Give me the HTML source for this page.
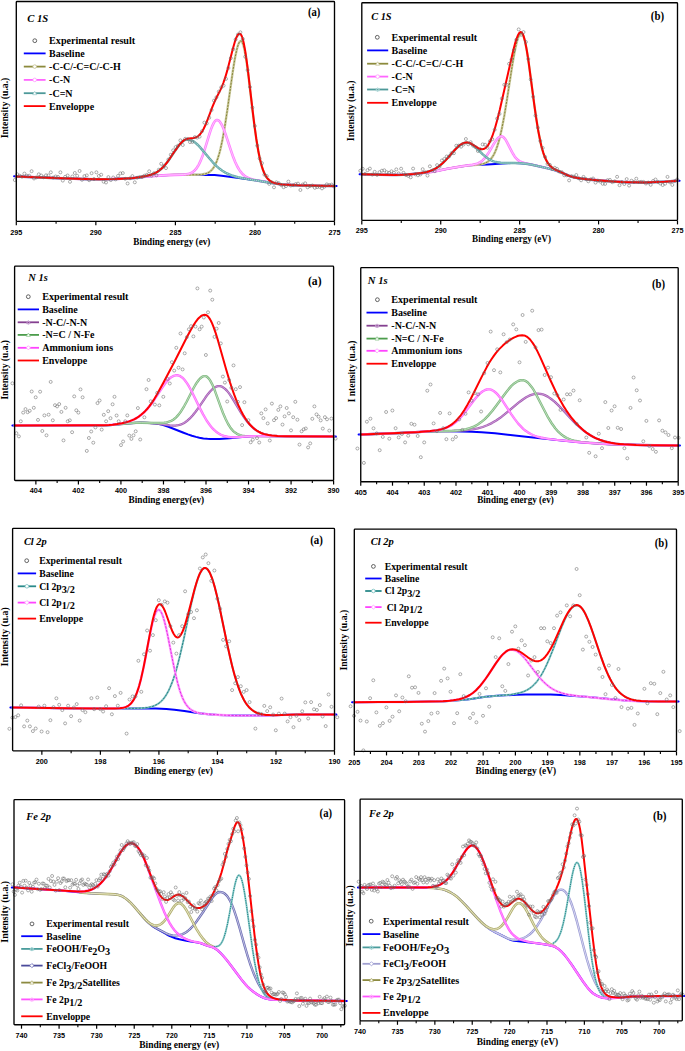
<!DOCTYPE html>
<html><head><meta charset="utf-8"><style>
html,body{margin:0;padding:0;background:#fff;}
svg{display:block;}
</style></head><body>
<svg width="685" height="1051" viewBox="0 0 685 1051">
<defs><path id="c1" d="M16.5,176.4l30.3,1.3 34.5,1.3 14,.3 12-.1 11-.3 12.5-.7 5-.4 13-1.5 10.5-.8 7.5-.4 7.5-.3 20,0 6-.2 2.5-.3 2.5-.5 2-.7 1.5-.7 1-.7 1-.8 1.5-1.5 1.5-2.1 1.5-2.7 1.5-3.4 1-2.8 1.5-4.9 1-3.8 2-9.1 2.5-14 2.5-16.4 5.5-38.8 1.5-9.4 1-5.6 1.5-6.9 1-3.6 .5-1.5 1-2.1 .5-.7 .5-.5 .5-.1 .5,.1 .5,.4 .5,.9 1,2.6 1,3.9 1.5,8.1 1,6.5 1.5,11.3 4.5,37.8 2,15.9 2,13.8 1.5,8.8 1,5.1 1,4.5 1,3.9 1,3.3 1,2.9 1,2.4 1,2 1,1.6 1,1.4 1.5,1.6 1,.9 1.5,.9 1.5,.8 2,.7 2,.5 2.5,.4 3.5,.4 4.5,.4 10.5,.5 20,.5 16.5,.2"/><path id="c2" d="M16.5,176.4l29.8,1.3 33.5,1.2 14,.4 11.5-.1 11.5-.3 13.5-.6 4.5-.4 11-1.3 5.5-.5 16-1 16-.5 3-.3 2.5-.5 1.5-.5 1.5-.7 1.5-1 1-.8 1.5-1.6 1-1.3 1-1.6 1-1.7 2-4.2 2-5.2 2-6.1 5-16.3 1.5-4.4 1-2.5 1.5-3 1-1.5 1-1 .5-.2 .5-.2 .5,0 1,.4 .5,.3 1,1 1.5,2.2 1.5,3.1 1.5,3.7 1.5,4.2 5,15.3 2,5.7 2.5,6.3 2,4.3 2,3.4 1,1.5 1.5,1.8 1,1.1 1.5,1.3 1,.8 1.5,.9 1.5,.7 2,.8 2.5,.7 2.5,.6 18.5,3.2 6.5,.9 9.5,.7 9.5,.5 19,.4 16,.2"/><path id="c3" d="M16.5,176.4l28.8,1.3 31.5,1.1 13,.4 11,.1 14-.3 16-.8 3.5-.3 4-.5 4-.6 4-.8 4.5-1.2 3.5-1.3 2-1 1.5-.9 1.5-1.1 1.5-1.2 3-3 3-3.6 3-4.1 7-10.4 2-2.7 1.5-1.8 2-1.9 1-.8 1-.7 1-.4 1-.3 1.5-.2 2,.3 1,.3 1.5,.7 2,1.2 2.5,2.1 2,1.9 2,2.2 8.5,10.2 3.5,4 3.5,3.6 3,2.7 3,2.2 3.5,2.1 3.5,1.6 3.5,1.3 5,1.4 6.5,1.3 21,3.4 9.5,1.6 5.5,.7 9.5,.7 9.5,.5 19,.4 16,.2"/><path id="c4" d="M362,174.3l9.8,.3 8,.2 11.5,.1 10,0 3.5-.2 4-.3 15.5-1.5 5-.6 4-.7 15-3 13.5-2.3 5.5-.7 10-.9 4-.5 2.5-.6 2-.8 2-1.1 1.5-1.2 1.5-1.5 1.5-1.9 1.5-2.5 1-2 1.5-3.6 1-2.8 1.5-4.9 1-3.8 2-8.7 2.5-13.1 2.5-15.1 5.5-35.6 1.5-8.8 1.5-7.8 1.5-6.4 1.5-4.8 1-2.1 .5-.8 .5-.5 .5-.3 .5-.1 .5,.2 .5,.4 .5,.8 1,2.4 .5,1.6 1,4 1.5,7.8 1,6.1 1.5,10.4 4.5,34.1 2,14.3 2.5,15.6 2,10.2 1,4.4 1,3.8 1,3.3 1.5,4.2 1.5,3.3 1.5,2.6 1.5,2.1 1.5,1.5 2,1.6 1.5,1 1.5,.8 10.5,4.8 3,1.2 3,1 4,.8 4.5,.8 6,.8 10.5,1 16,1.2 9,.5 12.5,.3 10,.1 10.5-.3 9.5-.4 12.5-.9"/><path id="c5" d="M362,174.3l14.3,.4 15.5,.2 10-.1 3.5-.1 4-.3 15.5-1.6 6.5-.8 4.5-.8 10.5-2.2 5.5-1 10-1.7 10.5-1.5 3.5-.7 2.5-.9 2-1.1 2-1.4 2-2 1.5-1.8 2-2.8 2-3.3 4-6.9 2.5-3.8 1.5-1.8 1-.9 1-.6 .5-.2 1-.2 .5,0 1,.4 1,.8 1,1.1 1,1.4 1,1.7 5,9.9 1.5,2.6 1,1.6 1,1.4 1.5,1.7 1.5,1.4 1.5,1 2,.9 2.5,.8 9,1.9 13,3 4.5,1.1 3.5,.9 3,1 2.5,.9 9,3.8 4,1.3 3.5,.7 3.5,.6 5,.7 5.5,.6 20,1.7 6,.4 6.5,.3 14,.4 12.5-.1 13-.5 15-1"/><path id="c6" d="M362,174.3l10.8,.3 9,.2 15,.1 6.5-.1 7-.5 9.5-1.1 5.5-.9 4-1 3-1.1 3-1.5 3-1.9 2.5-2 2.5-2.2 2.5-2.6 10-11.1 2-1.9 2-1.7 2-1.3 1.5-.7 2-.6 1.5-.1 1,.1 1.5,.4 1.5,.6 1.5,1 1.5,1.1 1.5,1.3 7.5,7.3 3.5,2.9 2,1.4 2,1.2 2,.9 2,.8 3,.7 3.5,.5 3.5,.2 10,0 6.5,.3 5,.4 5,.8 16,3.6 7,1.8 3,.9 2.5,.9 8,3.4 2.5,1 3.5,1 4,.8 4.5,.7 6,.8 17,1.5 11.5,.8 13,.5 11,.2 12-.2 11-.5 14-.9"/><path id="c7" d="M14.8,425.4l53.8-.1 38-.1 6-.3 10.5-1.1 8.5-.7 5-.3 4-.1 7,.2 10,.7 3.5,.4 8.5,1.3 3,.3 3,0 2.5-.4 1.5-.3 1.5-.5 1.5-.7 1.5-.8 1.5-.9 1.5-1.1 2.5-2.2 3-3.2 3-3.8 3-4.1 7-10.3 2.5-3.4 2-2.4 2.5-2.5 2-1.5 1.5-.8 1-.3 1-.2 1-.1 1,.1 1,.2 1,.4 1,.6 2,1.5 2,2 2,2.5 2,2.9 2.5,4 8,13.3 3,4.5 2.5,3.4 3,3.5 1.5,1.5 2,1.8 1.5,1.2 2,1.4 1.5,.9 2,1 3.5,1.3 3.5,.8 4.5,.7 5,.4 5.5,.2 7.5,.1 43.3,.2"/><path id="c8" d="M14.8,425.4l53.8-.1 38-.1 5.5-.3 12-1.2 11.5-.9 6-.1 12,.3 6,0 4.5-.2 2-.3 1.5-.3 1.5-.5 1.5-.5 1.5-.8 1.5-.9 1.5-1.2 1-.9 2.5-2.8 2.5-3.4 3-4.9 2.5-4.6 7-13.7 2-3.5 1.5-2.3 2-2.7 1-1 1-.9 1-.7 1-.5 1-.3 1,0 1,.2 .5,.2 1,.8 1,1 1.5,2.1 2,3.7 1.5,3.4 1.5,3.8 5.5,15.3 2.5,6.6 2.5,5.8 2.5,5 2,3.2 1,1.4 1.5,1.7 1,1 1.5,1.3 1.5,1 1.5,.8 2,.7 2,.5 2.5,.3 2.5,.2 86.3,.4"/><path id="c9" d="M14.8,425.4l63.8-.1 28.5-.2 5-.3 5-.7 6.5-1.2 4.5-1.2 2.5-.9 2-.8 2-.9 2-1.1 2-1.3 2-1.4 2-1.7 1.5-1.3 3.5-3.7 3.5-4.4 3.5-5 8-12.2 2.5-3.5 2-2.4 2.5-2.6 1.5-1.2 1-.6 1.5-.8 1-.3 1.5-.3 1,0 1.5,.2 1,.4 1,.5 1.5,1 1,.9 1.5,1.7 2.5,3.4 2,3.3 2.5,4.6 8,16.3 3.5,6.8 3.5,6.1 3,4.3 1.5,1.9 1.5,1.7 1.5,1.5 2,1.8 1.5,1.1 1.5,1 1.5,.8 2,.9 2.5,.8 2.5,.5 2.5,.3 3,.1 5-.1 12-.8 5-.2 78.3,.4"/><path id="c10" d="M361,434.5l39.8-1.5 30-1.6 7-.2 14.4-.2 7.6-.3 5-.3 4.4-.5 4.6-.7 4-.8 5-1.4 4.4-1.7 4.6-2.2 4.4-2.6 4-2.7 4-3.1 4-3.3 8-6.8 3.6-2.9 3.4-2.5 3-1.9 3-1.6 3-1.1 3-.7 1.6-.2 1.4,0 1.6,.1 1.4,.2 1.6,.4 2,.7 3,1.5 1.4,1 2,1.4 3.6,2.8 3.4,3.3 4,4.1 8,8.7 4,4.2 4,3.9 3.6,3.1 4.4,3.5 4,2.6 4.6,2.5 2.4,1.1 2.6,1 5,1.6 5.4,1.3 6,.9 6.6,.7 9,.4 12.4,.4 17,.3 16.8,.1"/><path id="c11" d="M361,434.5l39.8-1.5 29-1.6 6.4-.2 12-.2 6-.2 4.6-.4 4-.5 3.4-.7 3.6-1.1 4-1.5 2-1 2-1.1 3.4-2.4 3.6-3 3.4-3.5 4-4.6 4-5.3 9.6-13 3-3.8 2.4-2.8 1.6-1.4 1.4-1.3 2.6-1.7 1.4-.7 1.6-.5 1.4-.3 1-.1 1.6,.2 1,.3 1,.5 1,.6 1,.8 1.4,1.5 1,1.2 1.6,2 2,3 2.4,4.4 8.6,16.6 3.4,6.5 3.6,5.8 2,2.8 1.4,2 3,3.4 1.6,1.4 2,1.7 1.4,1.1 2,1.2 1.6,.9 2,.9 2.4,.9 3,.9 3,.6 3.6,.6 8,.9 13.4,1 13.6,.7 17,.4 24,.4 21.2,.2"/><path id="c12" d="M361,434.5l40.8-1.6 10-.5 13-.9 7-.6 5.4-.7 4.6-.9 3.4-1.1 3.6-1.5 2-1 1.4-1 2-1.4 1.6-1.2 3-2.7 2.4-2.7 3-3.5 3-3.9 6-8.1 2.6-3.1 2.4-2.9 2-1.9 2.6-2 2-1.1 2-.7 2-.1 1,0 1,.3 1,.3 1.4,.8 1,.6 1.6,1.3 2.4,2.5 2,2.5 2.6,3.4 8.4,13 3.6,5 3.4,4.5 3.6,3.8 1.4,1.4 2,1.7 1.6,1.1 2,1.3 2,1.1 2,1 2,.8 2.4,.8 3.6,.9 4.4,.9 5,.7 6.6,.8 23.4,2.3 18.6,1.4 14,.7 13.4,.5 28,.5 23.8,.2"/><path id="c13" d="M12.8,707.5l35.3,.6 33.5,.3 38.5,.1 17-.2 4.5-.2 3.5-.3 3-.4 2.5-.5 2.5-.7 2-.8 2-1 2-1.3 2-1.7 2-2.1 2-2.6 1.5-2.4 2-3.6 1.5-3.3 2-4.9 1.5-4.2 1.5-4.6 1.5-5.1 1.5-5.5 2-8 3.5-15.3 8-37.4 2.5-10.5 2-7.4 1.5-4.9 1-2.8 1-2.5 1-2.1 1.5-2.3 1-1.1 1-.6 1-.2 1,.2 1,.7 1,1.1 1.5,2.4 1,2.2 1.5,3.9 1,3 1.5,5.1 2,7.8 2.5,10.9 8,38.4 3,13.6 2,8.4 1.5,5.8 1.5,5.4 1.5,4.9 1.5,4.6 1.5,4 1.5,3.7 1.5,3.2 1.5,2.9 1.5,2.5 1.5,2.2 1.5,1.8 1.5,1.6 2,1.7 2,1.4 2,1.1 2,.8 2.5,.8 2.5,.5 3,.3 3.5,.2 4,.1 23.5-.6 37.2,0"/><path id="c14" d="M12.8,707.5l53.8,.8 30,.2 18-.1 5-.2 3.5-.4 1.5-.4 1.5-.5 1.5-.7 1-.6 1.5-1.2 1.5-1.6 1.5-2.1 1-1.7 1.5-3 1-2.4 2-5.8 2-7.2 2.5-10.7 2-9.9 5-26 1.5-7.1 1-4.2 1.5-5.5 1.5-4.1 1-1.8 .5-.7 .5-.4 .5-.3 .5-.1 .5,.1 .5,.3 .5,.4 .5,.7 1,1.7 1.5,3.8 1.5,5.1 1.5,6.1 1.5,6.9 5.5,27.8 2,9.5 2.5,10.5 1.5,5.4 1,3.2 1,2.9 1.5,3.8 1.5,3.2 1.5,2.6 1.5,2.1 1.5,1.7 1.5,1.4 2,1.4 2,1 2.5,1 3,.7 3.5,.5 5.5,.6 7,.5 16,.8 7,.1 24,0 8-.2 25-.8 38.7,0"/><path id="c15" d="M354.5,702.2l29.8-.1 29.5-.3 26-.4 10-.4 9-.8 10.5-1 4-.6 8.5-1.3 7-.9 6-.5 11.5-.9 5-.5 4-.7 3.5-.7 3-.9 3-1.1 2.5-1.2 2-1.3 2.5-1.8 2-1.9 2-2.1 2-2.5 2-2.9 1.5-2.4 1.5-2.6 2-3.8 2-4.2 2-4.5 3.5-8.6 9.5-24.6 2.5-5.9 2-4.2 1.5-2.8 1.5-2.5 1.5-2.1 1-1.1 1.5-1.4 1-.7 1.5-.5 1-.2 1,.1 1,.4 1,.6 1.5,1.3 1,1.2 1,1.5 1,1.6 1.5,2.9 2.5,5.6 2.5,6.5 2.5,7.1 8,23.6 3,8.1 2.5,6.1 2,4.4 1.5,3 1.5,2.7 1.5,2.5 1.5,2.3 1.5,2 1.5,1.8 2,2.1 1.5,1.3 2,1.5 2,1.3 2,1 2,.9 2,.7 2.5,.6 2.5,.5 5,.5 6.5,.3 11,.1 17.5,.1"/><path id="c16" d="M354.5,702.2l23.8-.1 23.5-.1 25-.4 14.5-.3 6.5-.4 5.5-.6 5-.9 4.5-1.2 2-.8 2-.8 2-1 1.5-.9 2-1.3 1.5-1.2 3-2.7 3.5-3.8 4-5.1 3.5-5 9-13.6 2.5-3.4 2-2.5 1.5-1.6 1.5-1.4 1.5-1.2 1-.7 1.5-.7 1-.4 1-.2 1.5-.1 1,.1 1.5,.3 1,.3 1.5,.7 1,.6 1.5,1.1 2.5,2.3 2,2.1 2.5,3 9,12 3.5,4.4 4,4.4 3.5,3.3 3.5,2.8 3.5,2.2 2,1.1 2,.9 4,1.5 3.5,.9 3.5,.8 4,.6 5,.7 32.5,3.3 18.5,1.5 6.5,.4 5.5,.2 36,.2"/><path id="c17" d="M140,913.4l5,5.7 2,2.1 2,1.9 2,1.7 2,1.4 2,1.3 2.5,1.4 8.5,4.4 2.5,1.1 2,.6 2,.4 2.5,.2 2.5-.2 2.5-.4 2-.7 1.5-.6 1.5-.8 1.5-.9 2-1.6 1.5-1.3 3-3.1 1.5-1.8 2-2.7 7.5-10.8 2.5-3.8 5.5-8.6 1.5-2 1.5-1.7 1-.9 1-.7 1-.5 1-.3 1-.2 1,.1 1,.2 1,.3 1.5,.9 1,.9 1.5,1.5 1,1.4 1,1.5 1,1.8 2,4.3 2,5.2 2.5,7.5 3,10 5.5,19.5 2.5,8.5 2.5,7.9 2.5,6.9 1.5,3.8 2,4.6 2,4.1 1.5,2.8 1.5,2.5 1.5,2.1 1.5,1.8 2,2.1 1.5,1.2 1.5,1 1.5,.8 2,.8 2,.6 2.5,.5 2.5,.4 3,.3 6.5,.4 10,.3 25.5,.4 19.9,.1"/><path id="c18" d="M80,892.4l5.5,.5 5,.4 19,.8 4.5,.3 2.5,.2 2,.4 1.5,.4 1.5,.5 2,1.1 2.5,1.7 2.5,2 2,1.9 3.5,3.7 9.5,11.1 2,2.1 2,2 2,1.6 2,1.2 2,.9 2,.4 1,0 1-.1 1.5-.4 1-.5 1-.6 1.5-1.1 2-2.1 2-2.6 2-3 4-6.4 1.5-2.2 1-1.2 1.5-1.4 1-.5 .5-.2 1-.2 .5,.1 1,.3 1,.6 1.5,1.3 1.5,1.8 1.5,2.2 2.5,4.4 5.5,10.7 2.5,4.6 3,4.8 3.5,4.8 2.5,2.9 2,1.8 2,1.4 4,2.2 1.5,1"/><path id="c19" d="M214,946.6l2,0 1.5-.3 1.5-.6 1-.9 1-1.2 1-1.6 1-2.1 1-2.6 1.5-4.9 2-8.5 2-10.3 4-22.2 1-4.9 1-4.2 1-3.4 1-2.4 .5-.7 .5-.5 .5-.1 .5,.2 .5,.5 .5,.8 .5,1.1 1,3 1,4 1.5,7.8 2,12.9 6,43.5 2,12.5 2,10.5 1,4.4 1,4 1,3.4 1,3 1,2.5 1,2.1 1,1.8 1.5,2.1 1,1 1,.9 1,.6 1.5,.8 2.5,.7 2,.3 2,.2 8.5,.3 14,.4 26.5,.4 19.4,.1"/><path id="c20" d="M14.2,887.5l15.8,.9 38.5,2.7 8.5,.4 4,.1 3.5-.3 3-.5 3-.8 2-.9 2-1 2-1.3 1.5-1.1 2-1.7 1.5-1.5 3-3.5 3-4.1 3-4.8 2.5-4.3 5.5-10 2-3.4 2-2.9 2-2.5 1.5-1.5 1-.8 1-.6 1-.5 1-.3 1-.1 1,0 1,.3 1,.5 1.5,1 1,1 1.5,1.7 2,2.9 1,1.8 1.5,2.9 2,4.5 2.5,6.2 11,30.2 3,7.8 3,7.4 3,6.6 2.5,4.8 2.5,4.1 2.5,3.3 2.5,2.8 2.5,2.2 3,2.1 3,1.6 2.5,1 3,.9 3,.8 4.5,.9 2.5,.7 6,2.4 6,1.8 2,1 2,1.4 2,1.7 2,2 2.5,2.7 2.5,2.9 4,5.1 10.5,14 5,6.2 2,2.3 1.5,1.5 2,1.7 2,1.6 2.5,1.7 3,2 2,1.1 2,1 2,.8 2,.6 2,.5 2.5,.3 7,.4 17,.5 28.5,.4 20.9,.2"/><path id="c21" d="M478.1,918.9l3.5,3.6 2.5,2.3 2.5,2 3,2.1 2.5,1.5 3,1.7 12.5,6.2 2,.7 1.5,.4 1.5,.3 2,.1 2-.1 2-.3 2-.5 2-.6 2-.8 1.5-.8 1.5-.9 1.5-1 1.5-1.3 1.5-1.4 2.5-2.8 3-4.1 3-4.8 3.5-6.5 7-13.6 2-3.5 1.5-2.4 1-1.3 1-1.1 1-1 1-.7 1-.4 1-.3 1,.1 1,.2 1.5,.9 1,.9 1,1.1 1,1.5 1,1.7 1.5,3.1 1,2.4 1.5,4 2,6.1 2.5,8.7 7.5,28.7 3,11 2.5,8.2 2.5,7.1 2.5,5.9 1,2 1.5,2.7 1,1.6 1.5,2.1 1.5,1.8 1.5,1.5 1,.9 1.5,1 1.5,.8 1.5,.5 1.5,.5 2,.4 2,.2 2.5,.2 5.5,0 10-.7 6-.3 22.5-.3 22-.1"/><path id="c22" d="M428.1,887.8l4.5,.2 3.5,.3 3.5,.4 3,.6 2.5,.7 2.5,1 3,1.5 2.5,1.5 2,1.3 2,1.6 2,1.8 2.5,2.4 5.5,5.7 10,11.1 3.5,3.5 2.5,2.4 2.5,2 2.5,1.6 2.5,1.2 2,.5 1.5,.2 1,0 1-.2 1-.2 1-.5 1-.5 2-1.6 2-2.2 2.5-3.3 2-3.2 5-8.7 1.5-2.3 1-1.2 1.5-1.4 1-.6 .5-.2 1,0 .5,.1 1,.3 1,.6 1.5,1.4 1,1.2 1.5,2.2 2.5,4.4 5.5,10.9 2.5,4.7 2.5,4.1 2.5,3.4 2.5,2.8 1.5,1.3 1.5,1.1 2.5,1.6 6.5,3.5"/><path id="c23" d="M553.1,943.3l1.5-.9 1-.8 1-1.1 1-1.4 1-1.7 1-2.2 1-2.6 1-3 1.5-5.6 2-9.1 2-10.8 4-23.1 1-5.2 1-4.6 1-3.7 1-2.8 .5-1 .5-.7 .5-.4 .5-.1 .5,.3 .5,.6 .5,.9 1,2.8 1,4.3 1.5,8.7 2,15 4.5,39.5 1.5,12.4 2,14.4 1.5,8.9 1.5,7.4 1,4 1,3.5 1,2.8 1,2.4 1,1.9 1.5,2.1 1.5,1.5 1,.7 1,.5 2,.7 1.5,.2 1.5,0 3,0 4.5-.2 13-1.1 5.5-.2 22.5-.4 23.5-.1"/><path id="c24" d="M360.3,887.5l63.3,0 4.5-.2 4-.4 3-.6 3-.8 1.5-.6 1.5-.8 2.5-1.6 2.5-1.9 2.5-2.6 2.5-3.1 2.5-3.7 3-5.1 6.5-11.5 2-3.2 1.5-2.1 1-1.2 1-.9 1.5-1.1 1-.5 1-.1 1,.1 .5,.1 1,.5 1,.8 1,1.1 1,1.3 2,3.3 2,4.1 2,4.9 2.5,6.9 10,30.5 2.5,7.1 2,5.4 3,7.3 2.5,5.4 2.5,4.6 1,1.6 1.5,2.1 1,1.1 1.5,1.6 2.5,1.9 1.5,1 1.5,.8 3,1.2 3.5,1 4,.9 5,.8 10.5,1.5 5.5,1 2,.6 2,.7 2,1 1.5,1 2,1.7 2,1.9 2,2.2 2,2.4 5,6.9 10.5,15.7 4.5,6.3 2,2.6 2,2.2 1.5,1.5 2,1.6 1.5,1 1.5,.8 1.5,.8 2,.7 3,.8 1.5,.3 2,.1 4,0 6.5-.4 13.5-1.1 5-.2 22.5-.4 24-.1"/><marker id="dot" markerUnits="userSpaceOnUse" markerWidth="6" markerHeight="6" refX="3" refY="3" overflow="visible"><circle cx="3" cy="3" r="1.5" fill="none" stroke="#6a6a6a" stroke-width="0.55"/></marker></defs>
<rect width="685" height="1051" fill="#fff"/>
<path d="M14.1,176.3l4.5,.1 29,1.3 31,1.2 13,.3 11,.1 12.5-.3 15-.7 5-.4 10-1.2 4.5-.5 11.5-.8 8-.4 9-.2 32,.1 4.5,.2 7,.7 13.5,1.6 20.5,2.9 9.5,1.5 10.5,1.8 6.5,.8 9.5,.6 9.5,.4 19.5,.5 16,.1" fill="none" stroke="#0000ff" stroke-width="2.0" stroke-linejoin="round" stroke-linecap="round"/>
<use href="#c1" fill="none" stroke="#c9c89a" stroke-width="2.4" stroke-linejoin="round" stroke-linecap="round"/>
<use href="#c1" fill="none" stroke="#7d7a2a" stroke-width="0.9" stroke-dasharray="2,1.2"/>
<use href="#c2" fill="none" stroke="#ff7dff" stroke-width="2.6" stroke-linejoin="round" stroke-linecap="round"/>
<use href="#c2" fill="none" stroke="#ffd8ff" stroke-width="0.8"/>
<use href="#c3" fill="none" stroke="#66aaaa" stroke-width="2.5" stroke-linejoin="round" stroke-linecap="round"/>
<use href="#c3" fill="none" stroke="#b4dada" stroke-width="0.9" stroke-dasharray="1.2,0.8"/>
<path d="M16.5,176.4l31.3,1.4 36.5,1.2 15,.3 13-.2 9.5-.4 8.5-.5 5-.4 5-.7 6-1.1 4.5-1.2 3.5-1.3 3-1.6 2-1.4 2-1.7 2-1.9 2-2.3 2-2.5 2-2.8 6-9 2.5-3.5 2.5-3.1 2-2.1 1.5-1.2 1-.6 1-.5 1-.4 2-.4 5-.6 1.5-.3 1.5-.6 1.5-1 1.5-1.4 1.5-1.9 1-1.5 1.5-2.7 2-4.4 2-5 4.5-11.9 2-4.9 2-4.3 4-7.9 1.5-3.3 1.5-3.8 2-5.8 2-6.8 5.5-21.5 2-7 1.5-4.2 1-2 1-1.4 .5-.4 .5-.2 .5,.1 .5,.2 .5,.5 .5,.7 .5,1 .5,1.3 .5,1.6 1,4.1 1.5,8.2 1,6.7 1.5,11.3 5,42.8 1.5,12.2 2,14.5 2,12.1 1.5,7.4 1,4.2 1,3.7 1,3.1 1,2.6 1,2.2 1,1.8 1,1.6 1.5,1.7 1,1 1.5,1.1 1.5,.8 2,.7 2,.6 2.5,.4 3.5,.5 4.5,.3 11,.6 20,.5 16.5,.2" fill="none" stroke="#ff0000" stroke-width="2.0" stroke-linejoin="round" stroke-linecap="round"/>
<path d="M14.8,180l2.4-5.7 2.4,1.4 2.4,1 2.4-3.1 2.4,2.1 2.4,0 2.4-4.5 2.4,7.3 2.4-1.1 2.4-3.1 2.4,1.2 2.4,1.8 2.4-2 2.4,.1 2.4-3.1 2.4,5.3 2.4-1.1 2.4,.4 2.4-4.6 2.4,8.3 2.4-3.8 2.4-1.3 2.4,6.3 2.4-5.3 2.4-3.5 2.4,2.8 2.4-4.8 2.4,8.8 2.4-3.7 2.4-.7 2.4,4.8 2.4-7 2.4,5.8 2.4-6.7 2.4,3.7 2.4-1.3 2.4,7 2.4,.8 2.4-5.4 2.4,3 2.4-2.6 2.4,1.9 2.4-3.5 2.4-2.5 2.4-.3 2.4,5.7 2.4,4.7 2.4-5.2 2.4-2.2 2.4,6.2 2.4-4.6 2.4-.7 2.4,.1 2.4-1.4 2.4-.9 2.4-3.5 2.4,4.3 2.4-2.4 2.4,2.1 2.4-5.6 2.4-5.9 2.4,2.4 2.4,1.9 2.4-8.6 2.4-4.8 2.4-4.4 2.4-3.2 2.4-1.4 2.4-5.3 2.4,4.6 2.4-6.2 2.4,.2 2.4,3.1 2.4-.1 2.4-4.9 2.4,.5 2.4-.9 2.4-5.5 2.4-8.6 2.4,.8 2.4-5.7 2.4-7.7 2.4-9.4 2.4-3.3 2.4-5.7 2.4-4.2 2.4-1.8 2.4-6.7 2.4-10.9 2.4-9.8 2.4-9 2.4-9.7 2.4-5 2.4-2.2 2.4,6.6 2.4,17.8 2.4,13.4 2.4,17 2.4,20.5 2.4,18.4 2.4,19.6 2.4,12.9 2.4,4.7 2.4,11.4 2.4,1.5 2.4,7.8 2.4-1.7 2.4,5.1 2.4-5 2.4,.9 2.4,1.8 2.4,2.2 2.4-1.1 2.4-4.5 2.4,3.9 2.4-.3 2.4-1.1 2.4-.5 2.4,6.4 2.4-5.5 2.4-1.2 2.4,4 2.4-1.3 2.4-.5 2.4,2.3 2.4-.7 2.4-.3 2.4,1.6 2.4-1.7 2.4-2.3 2.4,.6 2.4-.4 2.4,1.9" fill="none" stroke="none" marker-start="url(#dot)" marker-mid="url(#dot)" marker-end="url(#dot)"/>
<rect x="16.3" y="1.5" width="318.2" height="219.8" rx="0.8" fill="none" stroke="#000" stroke-width="1.35"/>
<line x1="16.3" y1="221.3" x2="16.3" y2="225.3" stroke="#000" stroke-width="1.2"/>
<text x="16.3" y="234.7" font-family='"Liberation Sans", sans-serif' font-size="7.9" font-weight="bold" font-style="normal" text-anchor="middle" fill="#000" textLength="12.1" lengthAdjust="spacingAndGlyphs" >295</text>
<line x1="95.85" y1="221.3" x2="95.85" y2="225.3" stroke="#000" stroke-width="1.2"/>
<text x="95.85" y="234.7" font-family='"Liberation Sans", sans-serif' font-size="7.9" font-weight="bold" font-style="normal" text-anchor="middle" fill="#000" textLength="12.1" lengthAdjust="spacingAndGlyphs" >290</text>
<line x1="175.4" y1="221.3" x2="175.4" y2="225.3" stroke="#000" stroke-width="1.2"/>
<text x="175.4" y="234.7" font-family='"Liberation Sans", sans-serif' font-size="7.9" font-weight="bold" font-style="normal" text-anchor="middle" fill="#000" textLength="12.1" lengthAdjust="spacingAndGlyphs" >285</text>
<line x1="254.95" y1="221.3" x2="254.95" y2="225.3" stroke="#000" stroke-width="1.2"/>
<text x="254.95" y="234.7" font-family='"Liberation Sans", sans-serif' font-size="7.9" font-weight="bold" font-style="normal" text-anchor="middle" fill="#000" textLength="12.1" lengthAdjust="spacingAndGlyphs" >280</text>
<line x1="334.5" y1="221.3" x2="334.5" y2="225.3" stroke="#000" stroke-width="1.2"/>
<text x="334.5" y="234.7" font-family='"Liberation Sans", sans-serif' font-size="7.9" font-weight="bold" font-style="normal" text-anchor="middle" fill="#000" textLength="12.1" lengthAdjust="spacingAndGlyphs" >275</text>
<line x1="56.08" y1="221.3" x2="56.08" y2="223.8" stroke="#000" stroke-width="1.1"/>
<line x1="135.62" y1="221.3" x2="135.62" y2="223.8" stroke="#000" stroke-width="1.1"/>
<line x1="215.18" y1="221.3" x2="215.18" y2="223.8" stroke="#000" stroke-width="1.1"/>
<line x1="294.73" y1="221.3" x2="294.73" y2="223.8" stroke="#000" stroke-width="1.1"/>
<text x="171.85" y="245.2" font-family='"Liberation Serif", serif' font-size="9.3" font-weight="bold" font-style="normal" text-anchor="middle" fill="#000" textLength="77.1" lengthAdjust="spacingAndGlyphs" >Binding energy (ev)</text>
<text transform="translate(8.4,108) rotate(-90)" x="0" y="0" font-family='"Liberation Serif", serif' font-size="9.8" font-weight="bold" text-anchor="middle" textLength="60.7" lengthAdjust="spacingAndGlyphs">Intensity (u.a.)</text>
<text x="27.2" y="21.7" font-family='"Liberation Serif", serif' font-size="10.6" font-weight="bold" font-style="italic" text-anchor="start" fill="#000" textLength="21.1" lengthAdjust="spacingAndGlyphs" >C 1S</text>
<text x="308" y="15.7" font-family='"Liberation Serif", serif' font-size="11.8" font-weight="bold" font-style="normal" text-anchor="start" fill="#000" textLength="12.4" lengthAdjust="spacingAndGlyphs" >(a)</text>
<circle cx="34.8" cy="40.7" r="1.9" fill="none" stroke="#333" stroke-width="0.75"/>
<text x="49.1" y="44" font-family='"Liberation Serif", serif' font-size="10" font-weight="bold" font-style="normal" text-anchor="start" fill="#000" textLength="86.1" lengthAdjust="spacingAndGlyphs" >Experimental result</text>
<line x1="23.8" y1="53.4" x2="45.6" y2="53.4" stroke="#0000ff" stroke-width="1.8"/>
<text x="49.1" y="56.8" font-family='"Liberation Serif", serif' font-size="10" font-weight="bold">Baseline</text>
<line x1="23.8" y1="66.6" x2="45.6" y2="66.6" stroke="#8c8a3c" stroke-width="1.8"/>
<circle cx="34.7" cy="66.6" r="1.8" fill="#fff" stroke="#c4c290" stroke-width="0.8"/>
<text x="49.1" y="70" font-family='"Liberation Serif", serif' font-size="10" font-weight="bold">-C-C/-C=C/-C-H</text>
<line x1="23.8" y1="79.9" x2="45.6" y2="79.9" stroke="#ff66ff" stroke-width="1.8"/>
<circle cx="34.7" cy="79.9" r="1.8" fill="#fff" stroke="#ff99ff" stroke-width="0.8"/>
<text x="49.1" y="83.3" font-family='"Liberation Serif", serif' font-size="10" font-weight="bold">-C-N</text>
<line x1="23.8" y1="93.2" x2="45.6" y2="93.2" stroke="#4d9999" stroke-width="1.8"/>
<path d="M32.7,94.7 L36.7,94.7 L34.7,91.3 Z" fill="#fff" stroke="#9ccccc" stroke-width="0.75"/>
<text x="49.1" y="96.6" font-family='"Liberation Serif", serif' font-size="10" font-weight="bold">-C=N</text>
<line x1="23.8" y1="106.1" x2="45.6" y2="106.1" stroke="#ff0000" stroke-width="1.8"/>
<text x="49.1" y="109.5" font-family='"Liberation Serif", serif' font-size="10" font-weight="bold">Enveloppe</text>
<path d="M359.6,174.2l14.5,.5 11,.2 14.5,0 7-.3 17-1.7 7-.8 5-.9 10.5-2.1 5.5-1.1 9.5-1.6 6.5-.8 6-.5 14-.7 19-1.2 4.5-.2 4,.1 6,.2 4,.3 4.5,.7 5,1 13.5,3.1 7,1.9 5,1.7 8.5,3.7 3.5,1.1 3,.7 3.5,.7 4.5,.6 5,.6 12.5,1.2 13.5,1 9.5,.4 12,.4 10,0 10-.3 8-.4 12.5-.8 3.5-.2" fill="none" stroke="#0000ff" stroke-width="2.0" stroke-linejoin="round" stroke-linecap="round"/>
<use href="#c4" fill="none" stroke="#c9c89a" stroke-width="2.4" stroke-linejoin="round" stroke-linecap="round"/>
<use href="#c4" fill="none" stroke="#7d7a2a" stroke-width="0.9" stroke-dasharray="2,1.2"/>
<use href="#c5" fill="none" stroke="#ff7dff" stroke-width="2.6" stroke-linejoin="round" stroke-linecap="round"/>
<use href="#c5" fill="none" stroke="#ffd8ff" stroke-width="0.8"/>
<use href="#c6" fill="none" stroke="#66aaaa" stroke-width="2.5" stroke-linejoin="round" stroke-linecap="round"/>
<use href="#c6" fill="none" stroke="#b4dada" stroke-width="0.9" stroke-dasharray="1.2,0.8"/>
<path d="M362,174.3l10.3,.3 8.5,.2 14,.1 7.5-.1 5-.3 6.5-.6 7.5-.9 4.5-.8 3.5-.9 3.5-1.4 2-.9 1.5-.9 3-2.1 3-2.5 3-2.9 3-3.3 6-6.8 3-3.1 1.5-1.3 1.5-1.2 1.5-.9 1.5-.8 1.5-.4 1.5-.3 1.5,.1 1.5,.3 1.5,.6 1.5,.8 6,3.8 1.5,.7 1,.3 1.5,.2 1-.2 1.5-.6 1-.7 1.5-1.6 1-1.4 1-1.8 1-2 2-4.8 2.5-7.5 2.5-8.9 2.5-10 12-53.1 1.5-6.4 1.5-5.9 1.5-5 1.5-3.9 1-1.9 .5-.6 .5-.5 .5-.3 .5-.1 .5,.1 .5,.4 .5,.6 1,2.1 .5,1.4 1,3.7 1.5,7.2 1,5.8 1.5,10 5.5,41.5 2,14 2,12.2 2,10.2 1,4.4 1,3.8 1,3.3 1.5,4.2 1.5,3.3 1.5,2.6 1.5,2.1 1.5,1.5 2,1.6 1.5,1 1.5,.8 10.5,4.8 3,1.2 3,1 4,.8 4.5,.8 6,.8 10.5,1 16,1.2 9,.5 12.5,.3 10,.1 10.5-.3 9.5-.4 12.5-.9" fill="none" stroke="#ff0000" stroke-width="2.0" stroke-linejoin="round" stroke-linecap="round"/>
<path d="M360.3,170.8l2.4-2 2.4,5 2.4-3.6 2.4-1.6 2.4,6 2.4-2.8 2.4,3.1 2.4-2.7 2.4-1.5 2.4-.4 2.4,1.9 2.4,.6 2.4-1.5 2.4,1.4 2.4-3.3 2.4,4 2.4-4.7 2.4,4.1 2.4,2.2 2.4,.9 2.4,1.4 2.4-8.7 2.4,5.8 2.4,.9 2.4-.8 2.4-5.3 2.4,3.1 2.4,3.3 2.4-9.3 2.4,4.3 2.4,.5 2.4-6 2.4,1.7 2.4-6.3 2.4-1.5 2.4-2.5 2.4,0 2.4-3.4 2.4,.1 2.4-7.5 2.4-.1 2.4,1.1 2.4-2.2 2.4-5.5 2.4,5.3 2.4-2.1 2.4,3.5 2.4,1.4 2.4,3.9 2.4-1.8 2.4-4.8 2.4,.3 2.4,3.1 2.4-6.6 2.4-2 2.4-9.5 2.4-11.1 2.4-4.7 2.4-15.3 2.4-13.8 2.4,0 2.4-21 2.4-4.2 2.4-9.3 2.4-10.5 2.4-10.4 2.4,5.4 2.4-2.7 2.4,9.9 2.4,17 2.4,20.5 2.4,17.2 2.4,18.9 2.4,12.1 2.4,13.2 2.4,7 2.4,9 2.4,7.1 2.4,.9 2.4,4.1 2.4-1.2 2.4,1.2 2.4,2.7 2.4,.5 2.4,3.1 2.4,0 2.4,5.1 2.4-4.3 2.4,.6 2.4-1.7 2.4,3.2 2.4,2.1 2.4-3.4 2.4,2.1 2.4,2.3 2.4-2 2.4-.8 2.4,4.1 2.4-2 2.4,1 2.4,2.2 2.4,.1 2.4-3.7 2.4-.3 2.4,2.3 2.4-.9 2.4-4.5 2.4,8.4 2.4-3.2 2.4,2 2.4-4.9 2.4,6.5 2.4-4.9 2.4,1.3 2.4-3.3 2.4,3.3 2.4-.2 2.4,.1 2.4,1.6 2.4-1 2.4,2.3 2.4-3.8 2.4-1.5 2.4,2.5 2.4,1.5 2.4,1.5 2.4-1.3 2.4-6.8 2.4,5.4 2.4,2.6 2.4-3.8 2.4-1.6" fill="none" stroke="none" marker-start="url(#dot)" marker-mid="url(#dot)" marker-end="url(#dot)"/>
<rect x="361.8" y="2.7" width="315.7" height="217.7" rx="0.8" fill="none" stroke="#000" stroke-width="1.35"/>
<line x1="361.8" y1="220.4" x2="361.8" y2="224.4" stroke="#000" stroke-width="1.2"/>
<text x="361.8" y="233.2" font-family='"Liberation Sans", sans-serif' font-size="7.9" font-weight="bold" font-style="normal" text-anchor="middle" fill="#000" textLength="12.1" lengthAdjust="spacingAndGlyphs" >295</text>
<line x1="440.73" y1="220.4" x2="440.73" y2="224.4" stroke="#000" stroke-width="1.2"/>
<text x="440.73" y="233.2" font-family='"Liberation Sans", sans-serif' font-size="7.9" font-weight="bold" font-style="normal" text-anchor="middle" fill="#000" textLength="12.1" lengthAdjust="spacingAndGlyphs" >290</text>
<line x1="519.65" y1="220.4" x2="519.65" y2="224.4" stroke="#000" stroke-width="1.2"/>
<text x="519.65" y="233.2" font-family='"Liberation Sans", sans-serif' font-size="7.9" font-weight="bold" font-style="normal" text-anchor="middle" fill="#000" textLength="12.1" lengthAdjust="spacingAndGlyphs" >285</text>
<line x1="598.58" y1="220.4" x2="598.58" y2="224.4" stroke="#000" stroke-width="1.2"/>
<text x="598.58" y="233.2" font-family='"Liberation Sans", sans-serif' font-size="7.9" font-weight="bold" font-style="normal" text-anchor="middle" fill="#000" textLength="12.1" lengthAdjust="spacingAndGlyphs" >280</text>
<line x1="677.5" y1="220.4" x2="677.5" y2="224.4" stroke="#000" stroke-width="1.2"/>
<text x="677.5" y="233.2" font-family='"Liberation Sans", sans-serif' font-size="7.9" font-weight="bold" font-style="normal" text-anchor="middle" fill="#000" textLength="12.1" lengthAdjust="spacingAndGlyphs" >275</text>
<line x1="401.26" y1="220.4" x2="401.26" y2="222.9" stroke="#000" stroke-width="1.1"/>
<line x1="480.19" y1="220.4" x2="480.19" y2="222.9" stroke="#000" stroke-width="1.1"/>
<line x1="559.11" y1="220.4" x2="559.11" y2="222.9" stroke="#000" stroke-width="1.1"/>
<line x1="638.04" y1="220.4" x2="638.04" y2="222.9" stroke="#000" stroke-width="1.1"/>
<text x="511.55" y="242.4" font-family='"Liberation Serif", serif' font-size="9.3" font-weight="bold" font-style="normal" text-anchor="middle" fill="#000" textLength="78.9" lengthAdjust="spacingAndGlyphs" >Binding energy (eV)</text>
<text transform="translate(353.9,110.8) rotate(-90)" x="0" y="0" font-family='"Liberation Serif", serif' font-size="9.8" font-weight="bold" text-anchor="middle" textLength="60.7" lengthAdjust="spacingAndGlyphs">Intensity (u.a.)</text>
<text x="371.2" y="20.3" font-family='"Liberation Serif", serif' font-size="10.6" font-weight="bold" font-style="italic" text-anchor="start" fill="#000" textLength="20.4" lengthAdjust="spacingAndGlyphs" >C 1S</text>
<text x="650.8" y="19.5" font-family='"Liberation Serif", serif' font-size="11.8" font-weight="bold" font-style="normal" text-anchor="start" fill="#000" textLength="13.3" lengthAdjust="spacingAndGlyphs" >(b)</text>
<circle cx="377.3" cy="37.3" r="1.9" fill="none" stroke="#333" stroke-width="0.75"/>
<text x="391.6" y="40.6" font-family='"Liberation Serif", serif' font-size="10" font-weight="bold" font-style="normal" text-anchor="start" fill="#000" textLength="85.5" lengthAdjust="spacingAndGlyphs" >Experimental result</text>
<line x1="367.1" y1="50.4" x2="388.2" y2="50.4" stroke="#0000ff" stroke-width="1.8"/>
<text x="391.6" y="53.8" font-family='"Liberation Serif", serif' font-size="10" font-weight="bold">Baseline</text>
<line x1="367.1" y1="63.7" x2="388.2" y2="63.7" stroke="#8c8a3c" stroke-width="1.8"/>
<path d="M375.65,65.2 L379.65,65.2 L377.65,61.8 Z" fill="#fff" stroke="#c4c290" stroke-width="0.75"/>
<text x="391.6" y="67.1" font-family='"Liberation Serif", serif' font-size="10" font-weight="bold">-C-C/-C=C/-C-H</text>
<line x1="367.1" y1="76.6" x2="388.2" y2="76.6" stroke="#ff66ff" stroke-width="1.8"/>
<circle cx="377.65" cy="76.6" r="1.8" fill="#fff" stroke="#ff99ff" stroke-width="0.8"/>
<text x="391.6" y="80" font-family='"Liberation Serif", serif' font-size="10" font-weight="bold">-C-N</text>
<line x1="367.1" y1="89.5" x2="388.2" y2="89.5" stroke="#4d9999" stroke-width="1.8"/>
<path d="M375.75,90.9 L379.55,90.9 L377.65,87.6 Z M375.75,88.9 L379.55,88.9 L377.65,91.7 Z" fill="#fff" stroke="#9ccccc" stroke-width="0.6"/>
<text x="391.6" y="92.9" font-family='"Liberation Serif", serif' font-size="10" font-weight="bold">-C=N</text>
<line x1="367.1" y1="102.8" x2="388.2" y2="102.8" stroke="#ff0000" stroke-width="1.8"/>
<text x="391.6" y="106.2" font-family='"Liberation Serif", serif' font-size="10" font-weight="bold">Enveloppe</text>
<path d="M12.4,425.4l55-.1 39-.1 6-.3 11-1.1 10-.8 5.5-.3 5,.1 5.5,.3 6,.5 3.5,.5 3.5,.7 3,.9 3,1 14.5,5.8 5,1.9 4,1.3 4,1.2 3.5,.8 4,.7 4,.4 3,.2 4,0 5,0 3.5-.2 7-.5 17-1.8 4-.2 3.5-.2 81.5,.4" fill="none" stroke="#0000ff" stroke-width="2.0" stroke-linejoin="round" stroke-linecap="round"/>
<use href="#c7" fill="none" stroke="#a45ab4" stroke-width="2.3" stroke-linejoin="round" stroke-linecap="round"/>
<use href="#c7" fill="none" stroke="#d9b5e0" stroke-width="0.7"/>
<use href="#c8" fill="none" stroke="#7fb87f" stroke-width="2.4" stroke-linejoin="round" stroke-linecap="round"/>
<use href="#c8" fill="none" stroke="#d6ecd6" stroke-width="0.7"/>
<use href="#c9" fill="none" stroke="#ff66ff" stroke-width="2.4" stroke-linejoin="round" stroke-linecap="round"/>
<use href="#c9" fill="none" stroke="#ffc8ff" stroke-width="0.7"/>
<path d="M14.8,425.4l73.3-.1 15.5-.1 5.5-.2 4-.3 4-.6 5-.9 4-.9 3-.9 2.5-1 2.5-1.1 2.5-1.3 2.5-1.7 2-1.5 2-1.7 2-1.9 2-2.2 2-2.4 3.5-5 2-3.1 2.5-4.2 6-11 11.5-21.8 13-25.7 3-5.6 2.5-4.3 3-4.6 1.5-2 1.5-1.6 1.5-1.3 1.5-1 1.5-.5 1-.1 1,.2 .5,.1 1,.6 1,.9 1,1.3 1,1.5 1,1.9 1,2.1 1.5,3.7 2,5.7 2.5,8.1 8,28.3 4,13.4 2,6.1 2,5.7 2,5.3 1.5,3.6 1.5,3.5 2,4.1 2,3.8 2,3.3 1.5,2.3 2,2.7 2,2.3 2,2 2,1.7 2,1.5 2,1.2 2.5,1.3 2.5,.9 2.5,.7 2.5,.5 3,.4 6,.5 8,.2 47.8,.3" fill="none" stroke="#ff0000" stroke-width="2.0" stroke-linejoin="round" stroke-linecap="round"/>
<path d="M12.4,383.3l4,49.9 2.5,3.2 1.9-15.1 2.4-8.7 2.3-3.5 2.1,3.1 2.1-1.4 2-19.3 2.1,16.3 1.9-10.5 2.3,22.6 2.1-28.2 2.2,39.3 2.1-15.6 2.1,19.9 2.1-20.6 2.1-32.8 2.1,38.4 2.2-15.1 2.1,1.2 2.1-2.3 2.2,7.8 2.1,28.5 2.1-32.6 2.1,13.5 2.1-1 2.3,11.9 2.1-35.8 2.1,13.9 2.1,2.3 2.1-23.2 2.1,7.9 4.2,53.6 2.1-12.9 2.3-6.5 2.1,11.2 2.1-15.3 2.1-24.3 2.1-2.6 2.1,29.1 2.1-14.8 2.3,6.5 2.1-10.1 2.3,7 2.1-13.9 1.9-7.5 2.1,18.7 2.1,5.8 2.3,23.8 2.1-3.6 2.1-20.2 2.1-5.9 2,20.2 2.1,3.3 2.1-3.6 2.2-4 2.2-23.2 2.3,31.4 4.2-22.2 2.1-28.1 2.1-9.2 2.1,21.3 4.2,3.3 2.3-11.7 2.1,12.5 4-8.6 4.4-17.8 2.1,4.5 2.1-21.3 2.3,8.4 2.1-22.8 2.2,19.9 2-34.2 2.1,35.9 2.1-16.1 2.1-16.1 2.1-7.9 2.1-3.1 2.4,10.2 2.1-9.8 1.9-38.2 2.2,40.9 2.1-2.7 2.1-9.1 2.1,37.5 2.1-42.7 2.2-21.7 2.1,9.1 2.2,37.2 2.1-8.2 2.1-5.7 2.1,20.4 2.1,33.2 2,6 2.3,18.9 1.9-21.6 2.3,7.9 2.1-22.4 2.3,23.8 2.1,12.6 2.1-14.7 2.1,38 2.3-22.9 4,18 2.3,22.1 2.1-2.6 4.2-1.6 2.2,4.4 2.1-29.1 2.1,4.7 2.2-8.7 2.1,14 2.1,17.1 2.1-36.9 2.1,16.6 2.1-2.1 2.2-8.2 2.1-3.5 2.1,18.2 2.1-8.2 2.1-8.4 2.2,5.4 2.1,17 2.2-13.2 2.1-15.4 2.1,17.9 2.1,24.9 2.1-13.3 2.1-2 2.1-.8 2.3,18.9 2.1-4 2.1-24.6 2.1-12.4 2.1,8 2.1,2.3 2.1,3.7 2.1,8.2 2.1-11.4 2.1,2.1 2.3,11.3 2.1-12 4.2,20" fill="none" stroke="none" marker-start="url(#dot)" marker-mid="url(#dot)" marker-end="url(#dot)"/>
<rect x="14.6" y="266.1" width="319" height="214.4" rx="0.8" fill="none" stroke="#000" stroke-width="1.35"/>
<line x1="35.87" y1="480.5" x2="35.87" y2="484.5" stroke="#000" stroke-width="1.2"/>
<text x="35.87" y="493.2" font-family='"Liberation Sans", sans-serif' font-size="7.9" font-weight="bold" font-style="normal" text-anchor="middle" fill="#000" textLength="12.1" lengthAdjust="spacingAndGlyphs" >404</text>
<line x1="78.4" y1="480.5" x2="78.4" y2="484.5" stroke="#000" stroke-width="1.2"/>
<text x="78.4" y="493.2" font-family='"Liberation Sans", sans-serif' font-size="7.9" font-weight="bold" font-style="normal" text-anchor="middle" fill="#000" textLength="12.1" lengthAdjust="spacingAndGlyphs" >402</text>
<line x1="120.93" y1="480.5" x2="120.93" y2="484.5" stroke="#000" stroke-width="1.2"/>
<text x="120.93" y="493.2" font-family='"Liberation Sans", sans-serif' font-size="7.9" font-weight="bold" font-style="normal" text-anchor="middle" fill="#000" textLength="12.1" lengthAdjust="spacingAndGlyphs" >400</text>
<line x1="163.47" y1="480.5" x2="163.47" y2="484.5" stroke="#000" stroke-width="1.2"/>
<text x="163.47" y="493.2" font-family='"Liberation Sans", sans-serif' font-size="7.9" font-weight="bold" font-style="normal" text-anchor="middle" fill="#000" textLength="12.1" lengthAdjust="spacingAndGlyphs" >398</text>
<line x1="206" y1="480.5" x2="206" y2="484.5" stroke="#000" stroke-width="1.2"/>
<text x="206" y="493.2" font-family='"Liberation Sans", sans-serif' font-size="7.9" font-weight="bold" font-style="normal" text-anchor="middle" fill="#000" textLength="12.1" lengthAdjust="spacingAndGlyphs" >396</text>
<line x1="248.53" y1="480.5" x2="248.53" y2="484.5" stroke="#000" stroke-width="1.2"/>
<text x="248.53" y="493.2" font-family='"Liberation Sans", sans-serif' font-size="7.9" font-weight="bold" font-style="normal" text-anchor="middle" fill="#000" textLength="12.1" lengthAdjust="spacingAndGlyphs" >394</text>
<line x1="291.07" y1="480.5" x2="291.07" y2="484.5" stroke="#000" stroke-width="1.2"/>
<text x="291.07" y="493.2" font-family='"Liberation Sans", sans-serif' font-size="7.9" font-weight="bold" font-style="normal" text-anchor="middle" fill="#000" textLength="12.1" lengthAdjust="spacingAndGlyphs" >392</text>
<line x1="333.6" y1="480.5" x2="333.6" y2="484.5" stroke="#000" stroke-width="1.2"/>
<text x="333.6" y="493.2" font-family='"Liberation Sans", sans-serif' font-size="7.9" font-weight="bold" font-style="normal" text-anchor="middle" fill="#000" textLength="12.1" lengthAdjust="spacingAndGlyphs" >390</text>
<line x1="57.13" y1="480.5" x2="57.13" y2="483" stroke="#000" stroke-width="1.1"/>
<line x1="99.67" y1="480.5" x2="99.67" y2="483" stroke="#000" stroke-width="1.1"/>
<line x1="142.2" y1="480.5" x2="142.2" y2="483" stroke="#000" stroke-width="1.1"/>
<line x1="184.73" y1="480.5" x2="184.73" y2="483" stroke="#000" stroke-width="1.1"/>
<line x1="227.27" y1="480.5" x2="227.27" y2="483" stroke="#000" stroke-width="1.1"/>
<line x1="269.8" y1="480.5" x2="269.8" y2="483" stroke="#000" stroke-width="1.1"/>
<line x1="312.33" y1="480.5" x2="312.33" y2="483" stroke="#000" stroke-width="1.1"/>
<text x="166.4" y="503" font-family='"Liberation Serif", serif' font-size="9.3" font-weight="bold" font-style="normal" text-anchor="middle" fill="#000" textLength="75.6" lengthAdjust="spacingAndGlyphs" >Binding energy(ev)</text>
<text transform="translate(7.5,369.8) rotate(-90)" x="0" y="0" font-family='"Liberation Serif", serif' font-size="9.8" font-weight="bold" text-anchor="middle" textLength="59.6" lengthAdjust="spacingAndGlyphs">Intensity (u.a.)</text>
<text x="28.3" y="281" font-family='"Liberation Serif", serif' font-size="10.6" font-weight="bold" font-style="italic" text-anchor="start" fill="#000" textLength="19.4" lengthAdjust="spacingAndGlyphs" >N 1s</text>
<text x="308" y="284.9" font-family='"Liberation Serif", serif' font-size="11.8" font-weight="bold" font-style="normal" text-anchor="start" fill="#000" textLength="13.5" lengthAdjust="spacingAndGlyphs" >(a)</text>
<circle cx="28.3" cy="296.7" r="1.9" fill="none" stroke="#333" stroke-width="0.75"/>
<text x="42.2" y="300" font-family='"Liberation Serif", serif' font-size="10" font-weight="bold" font-style="normal" text-anchor="start" fill="#000" textLength="86.3" lengthAdjust="spacingAndGlyphs" >Experimental result</text>
<line x1="17.7" y1="309.4" x2="39" y2="309.4" stroke="#0000ff" stroke-width="1.8"/>
<text x="42.2" y="312.8" font-family='"Liberation Serif", serif' font-size="10" font-weight="bold">Baseline</text>
<line x1="17.7" y1="322.3" x2="39" y2="322.3" stroke="#844090" stroke-width="1.8"/>
<path d="M26.45,323.7 L30.25,323.7 L28.35,320.4 Z M26.45,321.7 L30.25,321.7 L28.35,324.5 Z" fill="#fff" stroke="#b888c4" stroke-width="0.6"/>
<text x="42.2" y="325.7" font-family='"Liberation Serif", serif' font-size="10" font-weight="bold">-N-C/-N-N</text>
<line x1="17.7" y1="334.9" x2="39" y2="334.9" stroke="#4c9c4c" stroke-width="1.8"/>
<path d="M26.35,336.4 L30.35,336.4 L28.35,333 Z" fill="#fff" stroke="#90c890" stroke-width="0.75"/>
<text x="42.2" y="338.3" font-family='"Liberation Serif", serif' font-size="10" font-weight="bold">-N=C / N-Fe</text>
<line x1="17.7" y1="347.8" x2="39" y2="347.8" stroke="#ff44ff" stroke-width="1.8"/>
<path d="M26.25,347.8 L28.35,345.7 L30.45,347.8 L28.35,349.9 Z" fill="#fff" stroke="#ff99ff" stroke-width="0.8"/>
<text x="42.2" y="351.2" font-family='"Liberation Serif", serif' font-size="10" font-weight="bold">Ammonium ions</text>
<line x1="17.7" y1="360.5" x2="39" y2="360.5" stroke="#ff0000" stroke-width="1.8"/>
<text x="42.2" y="363.9" font-family='"Liberation Serif", serif' font-size="10" font-weight="bold">Enveloppe</text>
<path d="M358.6,434.5l9-.2 31.4-1.3 25.6-1.3 9.4-.4 6.6-.1 9.4,.1 22,.4 9.6,.5 13.4,1.1 35.6,3.9 29,3.1 20,1.9 14,1 15.4,1 12.6,.4 32,.7 26.4,.2" fill="none" stroke="#0000ff" stroke-width="2.0" stroke-linejoin="round" stroke-linecap="round"/>
<use href="#c10" fill="none" stroke="#a45ab4" stroke-width="2.3" stroke-linejoin="round" stroke-linecap="round"/>
<use href="#c10" fill="none" stroke="#d9b5e0" stroke-width="0.7"/>
<use href="#c11" fill="none" stroke="#7fb87f" stroke-width="2.4" stroke-linejoin="round" stroke-linecap="round"/>
<use href="#c11" fill="none" stroke="#d6ecd6" stroke-width="0.7"/>
<use href="#c12" fill="none" stroke="#ff66ff" stroke-width="2.4" stroke-linejoin="round" stroke-linecap="round"/>
<use href="#c12" fill="none" stroke="#ffc8ff" stroke-width="0.7"/>
<path d="M361,434.5l19.8-.7 23-1 15.4-.9 11-.9 6.6-.8 2.4-.5 2.6-.6 2-.6 2-.7 2-1 2-1.1 2-1.3 2-1.6 2-1.8 1.4-1.5 2-2.3 1.6-1.9 3.4-5.1 3-5 3.6-6.4 11-22.2 5-9.5 2.4-4.3 2.6-4 2-2.9 2.4-3.3 3-3.5 3.6-3.5 3.4-3 4-2.9 3.6-2.1 3-1.3 1.4-.5 1.6-.3 2.4-.2 1.6,.1 1.4,.4 1.6,.8 1.4,1.1 1.6,1.5 1.4,1.8 1.6,2.1 2,3.2 2.4,4.6 3,6.2 10.6,23.9 5,10.7 2.4,5 2.6,4.6 2.4,4.3 3,4.7 2.6,3.7 2.4,3.4 2.6,3.1 2.4,2.8 2.6,2.7 3,2.8 2.4,2.1 3,2.3 3,2 3,1.7 3,1.5 3.6,1.4 3.4,1.2 3.6,1 4,.8 4,.7 4,.4 5,.4 12.4,.6 20,.4 21.8,.2" fill="none" stroke="#ff0000" stroke-width="2.0" stroke-linejoin="round" stroke-linecap="round"/>
<path d="M357.4,448.5l6.5,14.4 3-41.2 3.5-3 3.1,9.6 3.2,5.1 3,16.8 3.1-13.3 3.3-24.9 3.2,26.7 3.1-28.2 3.2,17.7 3.1,9.2 3.2-3.4 3.2,8.4 3.1-6.7 3.2-11.9 3.1,.9 3.2,11.3 3.1,21.2 3.4-14.8 3.1-51.7 3.2-6.2 3.1,38.9 3.3,7.6 3.2-18.1 3.1,15.3 3.2,11 3.2-25.8 3.1,26 3.2-2.5 3.3-17.5 3.1,10.5 3.2-16.1 3.1-21.4 3,8.3 3.2-7.6 3.3,1.2 3,17.2 3.1-38.3 3.3-10.2 3.2-31.4 3.3,38.6 3.2-20.9 3.1,23.1 3.3-38.1 3.1,7.8 3.1-2.6 3.4-15.1 3.1,5 3.2,32.9 3.1-47.3 3.1,26.9 6.5-31.2 3.3,36.7 3-17.3 3.1-.5 3.1,45.4 3.3-7.4 3,9.6 3.3,16.3 3.1,1.7 3.1,14.7 3.2-10.4 3.3-5.2 3.2,0 3.3-3.7 3.1,33.2 3.1-23.5 6.6,37.2 2.9,15.3 6.4,3.5 3.2-22.6 3.2,14.5 3.3-46.1 3,25.9 3.3-17.5 3-4.2 3.1,21.5 3.4,1.2 3.3,19.2 2.9,10.1 3.2-50.4 3.1-30.4 3.1,12.8 3.3,10.2 3.3,40.8 3.1-20.4 3,25.2 3.3,2.9 3.2,2.8 3.2-31.4 3.3,10.3 3.1,1.7 3,2.6 3.3,13.2 3.2-10.7 3.6,.4" fill="none" stroke="none" marker-start="url(#dot)" marker-mid="url(#dot)" marker-end="url(#dot)"/>
<rect x="360.75" y="267.6" width="317.45" height="214.1" rx="0.8" fill="none" stroke="#000" stroke-width="1.35"/>
<line x1="360.75" y1="481.7" x2="360.75" y2="485.7" stroke="#000" stroke-width="1.2"/>
<text x="360.75" y="494.9" font-family='"Liberation Sans", sans-serif' font-size="7.9" font-weight="bold" font-style="normal" text-anchor="middle" fill="#000" textLength="12.1" lengthAdjust="spacingAndGlyphs" >405</text>
<line x1="392.5" y1="481.7" x2="392.5" y2="485.7" stroke="#000" stroke-width="1.2"/>
<text x="392.5" y="494.9" font-family='"Liberation Sans", sans-serif' font-size="7.9" font-weight="bold" font-style="normal" text-anchor="middle" fill="#000" textLength="12.1" lengthAdjust="spacingAndGlyphs" >404</text>
<line x1="424.24" y1="481.7" x2="424.24" y2="485.7" stroke="#000" stroke-width="1.2"/>
<text x="424.24" y="494.9" font-family='"Liberation Sans", sans-serif' font-size="7.9" font-weight="bold" font-style="normal" text-anchor="middle" fill="#000" textLength="12.1" lengthAdjust="spacingAndGlyphs" >403</text>
<line x1="455.99" y1="481.7" x2="455.99" y2="485.7" stroke="#000" stroke-width="1.2"/>
<text x="455.99" y="494.9" font-family='"Liberation Sans", sans-serif' font-size="7.9" font-weight="bold" font-style="normal" text-anchor="middle" fill="#000" textLength="12.1" lengthAdjust="spacingAndGlyphs" >402</text>
<line x1="487.73" y1="481.7" x2="487.73" y2="485.7" stroke="#000" stroke-width="1.2"/>
<text x="487.73" y="494.9" font-family='"Liberation Sans", sans-serif' font-size="7.9" font-weight="bold" font-style="normal" text-anchor="middle" fill="#000" textLength="12.1" lengthAdjust="spacingAndGlyphs" >401</text>
<line x1="519.48" y1="481.7" x2="519.48" y2="485.7" stroke="#000" stroke-width="1.2"/>
<text x="519.48" y="494.9" font-family='"Liberation Sans", sans-serif' font-size="7.9" font-weight="bold" font-style="normal" text-anchor="middle" fill="#000" textLength="12.1" lengthAdjust="spacingAndGlyphs" >400</text>
<line x1="551.22" y1="481.7" x2="551.22" y2="485.7" stroke="#000" stroke-width="1.2"/>
<text x="551.22" y="494.9" font-family='"Liberation Sans", sans-serif' font-size="7.9" font-weight="bold" font-style="normal" text-anchor="middle" fill="#000" textLength="12.1" lengthAdjust="spacingAndGlyphs" >399</text>
<line x1="582.97" y1="481.7" x2="582.97" y2="485.7" stroke="#000" stroke-width="1.2"/>
<text x="582.97" y="494.9" font-family='"Liberation Sans", sans-serif' font-size="7.9" font-weight="bold" font-style="normal" text-anchor="middle" fill="#000" textLength="12.1" lengthAdjust="spacingAndGlyphs" >398</text>
<line x1="614.71" y1="481.7" x2="614.71" y2="485.7" stroke="#000" stroke-width="1.2"/>
<text x="614.71" y="494.9" font-family='"Liberation Sans", sans-serif' font-size="7.9" font-weight="bold" font-style="normal" text-anchor="middle" fill="#000" textLength="12.1" lengthAdjust="spacingAndGlyphs" >397</text>
<line x1="646.46" y1="481.7" x2="646.46" y2="485.7" stroke="#000" stroke-width="1.2"/>
<text x="646.46" y="494.9" font-family='"Liberation Sans", sans-serif' font-size="7.9" font-weight="bold" font-style="normal" text-anchor="middle" fill="#000" textLength="12.1" lengthAdjust="spacingAndGlyphs" >396</text>
<line x1="678.2" y1="481.7" x2="678.2" y2="485.7" stroke="#000" stroke-width="1.2"/>
<text x="678.2" y="494.9" font-family='"Liberation Sans", sans-serif' font-size="7.9" font-weight="bold" font-style="normal" text-anchor="middle" fill="#000" textLength="12.1" lengthAdjust="spacingAndGlyphs" >395</text>
<line x1="376.62" y1="481.7" x2="376.62" y2="484.2" stroke="#000" stroke-width="1.1"/>
<line x1="408.37" y1="481.7" x2="408.37" y2="484.2" stroke="#000" stroke-width="1.1"/>
<line x1="440.11" y1="481.7" x2="440.11" y2="484.2" stroke="#000" stroke-width="1.1"/>
<line x1="471.86" y1="481.7" x2="471.86" y2="484.2" stroke="#000" stroke-width="1.1"/>
<line x1="503.6" y1="481.7" x2="503.6" y2="484.2" stroke="#000" stroke-width="1.1"/>
<line x1="535.35" y1="481.7" x2="535.35" y2="484.2" stroke="#000" stroke-width="1.1"/>
<line x1="567.09" y1="481.7" x2="567.09" y2="484.2" stroke="#000" stroke-width="1.1"/>
<line x1="598.84" y1="481.7" x2="598.84" y2="484.2" stroke="#000" stroke-width="1.1"/>
<line x1="630.58" y1="481.7" x2="630.58" y2="484.2" stroke="#000" stroke-width="1.1"/>
<line x1="662.33" y1="481.7" x2="662.33" y2="484.2" stroke="#000" stroke-width="1.1"/>
<text x="515.5" y="503.4" font-family='"Liberation Serif", serif' font-size="9.3" font-weight="bold" font-style="normal" text-anchor="middle" fill="#000" textLength="76.6" lengthAdjust="spacingAndGlyphs" >Binding energy (ev)</text>
<text transform="translate(355.4,371.4) rotate(-90)" x="0" y="0" font-family='"Liberation Serif", serif' font-size="9.8" font-weight="bold" text-anchor="middle" textLength="61.8" lengthAdjust="spacingAndGlyphs">I ntensity (u.a.)</text>
<text x="367.8" y="283.8" font-family='"Liberation Serif", serif' font-size="10.6" font-weight="bold" font-style="italic" text-anchor="start" fill="#000" textLength="19.8" lengthAdjust="spacingAndGlyphs" >N 1s</text>
<text x="652" y="287.8" font-family='"Liberation Serif", serif' font-size="11.8" font-weight="bold" font-style="normal" text-anchor="start" fill="#000" textLength="13.1" lengthAdjust="spacingAndGlyphs" >(b)</text>
<circle cx="377.4" cy="299.7" r="1.9" fill="none" stroke="#333" stroke-width="0.75"/>
<text x="391.3" y="303" font-family='"Liberation Serif", serif' font-size="10" font-weight="bold" font-style="normal" text-anchor="start" fill="#000" textLength="86.2" lengthAdjust="spacingAndGlyphs" >Experimental result</text>
<line x1="366.5" y1="312.6" x2="387.6" y2="312.6" stroke="#0000ff" stroke-width="1.8"/>
<text x="391.3" y="316" font-family='"Liberation Serif", serif' font-size="10" font-weight="bold">Baseline</text>
<line x1="366.5" y1="325.7" x2="387.6" y2="325.7" stroke="#844090" stroke-width="1.8"/>
<path d="M375.15,327.1 L378.95,327.1 L377.05,323.8 Z M375.15,325.1 L378.95,325.1 L377.05,327.9 Z" fill="#fff" stroke="#b888c4" stroke-width="0.6"/>
<text x="391.3" y="329.1" font-family='"Liberation Serif", serif' font-size="10" font-weight="bold">-N-C/-N-N</text>
<line x1="366.5" y1="338.6" x2="387.6" y2="338.6" stroke="#4c9c4c" stroke-width="1.8"/>
<path d="M375.05,340.1 L379.05,340.1 L377.05,336.7 Z" fill="#fff" stroke="#90c890" stroke-width="0.75"/>
<text x="391.3" y="342" font-family='"Liberation Serif", serif' font-size="10" font-weight="bold">-N=C / N-Fe</text>
<line x1="366.5" y1="350.8" x2="387.6" y2="350.8" stroke="#ff44ff" stroke-width="1.8"/>
<path d="M374.95,350.8 L377.05,348.7 L379.15,350.8 L377.05,352.9 Z" fill="#fff" stroke="#ff99ff" stroke-width="0.8"/>
<text x="391.3" y="354.2" font-family='"Liberation Serif", serif' font-size="10" font-weight="bold">Ammonium ions</text>
<line x1="366.5" y1="363.7" x2="387.6" y2="363.7" stroke="#ff0000" stroke-width="1.8"/>
<text x="391.3" y="367.1" font-family='"Liberation Serif", serif' font-size="10" font-weight="bold">Enveloppe</text>
<path d="M10.4,707.5l37.5,.6 30,.3 37.5,.1 33-.1 7.5,.1 10.5,.6 8,.7 10,1.3 13,2 8.5,.9 12,.9 9.5,.4 6,.2 31,.1 25-.8 8-.2 39,0" fill="none" stroke="#0000ff" stroke-width="2.0" stroke-linejoin="round" stroke-linecap="round"/>
<use href="#c13" fill="none" stroke="#86c2c2" stroke-width="2.0" stroke-linejoin="round" stroke-linecap="round"/>
<use href="#c13" fill="none" stroke="#167d80" stroke-width="0.9" stroke-dasharray="2.2,1.2"/>
<use href="#c14" fill="none" stroke="#ff9cff" stroke-width="2.4" stroke-linejoin="round" stroke-linecap="round"/>
<use href="#c14" fill="none" stroke="#e020e0" stroke-width="0.9" stroke-dasharray="2.5,1.2"/>
<path d="M12.8,707.5l53.8,.8 30,.2 18-.1 5-.2 3.5-.4 1.5-.4 1.5-.5 1.5-.7 1-.7 1.5-1.2 1.5-1.6 1.5-2 1-1.7 1.5-3.1 1-2.4 1.5-4.3 1-3.2 2-7.6 2.5-11.3 2-10.3 4.5-24.2 2.5-12 1.5-6 1-3.3 1-2.8 1-2 1-1.4 .5-.5 .5-.3 .5-.1 .5,0 .5,.2 .5,.3 1,1 1.5,2.5 1.5,3.3 1.5,4 4.5,12.7 1.5,3.6 1,1.9 1.5,2.3 1,.9 .5,.3 1,.2 .5,0 1-.5 .5-.4 1-1.3 1.5-2.6 1.5-3.6 1.5-4.4 2.5-8.7 7-26.9 2-6.8 1.5-4.4 1-2.6 1-2.2 1.5-2.6 1-1.2 1-.9 1-.3 .5-.1 1,.3 1,.7 1,1.1 1.5,2.4 1,2.2 1.5,3.8 1,3.1 1.5,5.1 2,7.8 2.5,10.9 8,38.4 3,13.6 2,8.4 1.5,5.8 1.5,5.4 1.5,4.9 1.5,4.6 1.5,4 1.5,3.7 1.5,3.2 1.5,2.9 1.5,2.5 1.5,2.2 1.5,1.8 1.5,1.6 2,1.7 2,1.4 2,1.1 2,.8 2.5,.8 2.5,.5 3,.3 3.5,.2 4,.1 23.5-.6 37.2,0" fill="none" stroke="#ff0000" stroke-width="2.0" stroke-linejoin="round" stroke-linecap="round"/>
<path d="M9.4,728.8l3-11.2 3-.5 2.8-1.8 2.9-10 3,21.1 3.2-5.8 2.6,5.8 3,4.7 2.8-2.6 3-21.9 2.9,24.9 2.8-25.8 3.2,26.5 2.8-12 3.1-13.1 2.9-8.8 2.8,6.5 3.1,5.3 2.8,13.3 3-17.7 3,10.5 2.8-8.8 2.8-3.3 3,16.5 2.8-10.5 2.9,2.1 6-14 2.8,11 3.1-11.7 3,11.7 2.8,2.3 3-5.3 3-18 2.8,26.1 3-18.2 2.9,9.6 2.8-12.8 6,40.7 2.9-34.1 3.1-3.1 2.9,0 2.9-35.6 2.9,31 2.7-37.5 3.1-23.8 2.9,20.2 2.9-15.6 2.9-14.9 3-20 2.9,4.6 3.1-3.4 2.7,1.3 2.9,23.5 2.9,16.4 3.1,11 2.7-18.5 3.1-8.9 2.9-34.9 3.1,22.9 2.9-2.2 2.9,6.2 2.9-7.9 3-41.8 2.9-11.1 2.9-2.9 2.7,8.7 2.9,17.6 3.1-10.3 2.9,28.3 2.9,10 2.9,31.1 3,6.5 3.1-5.1 2.9,48.8 3.1-6.8 2.7-6.2 2.9,9.1 2.9,5.7 2.9-1.8 3,12 5.8,26.5 3.3-15 2.7,.4 2.9-8.1 2.9,5.2 3-3.8 2.9,7.2 2.7,15.8 3.1-16.7 2.7-15 3.1,15 2.9,7.8 2.9-4.2 3,10 2.9-11.4 2.9,4.3 2.9-8.8 3.1-8.9 2.9,16.1 2.9-16.4 2.9,7.2 2.9,.7 2.9-4.9 2.8,11.4 3.1,9.6 2.9-31.6 2.9,12.3 5.8,10.4" fill="none" stroke="none" marker-start="url(#dot)" marker-mid="url(#dot)" marker-end="url(#dot)"/>
<rect x="12.6" y="528.4" width="321.9" height="222.4" rx="0.8" fill="none" stroke="#000" stroke-width="1.35"/>
<line x1="41.86" y1="750.8" x2="41.86" y2="754.8" stroke="#000" stroke-width="1.2"/>
<text x="41.86" y="764.1" font-family='"Liberation Sans", sans-serif' font-size="7.9" font-weight="bold" font-style="normal" text-anchor="middle" fill="#000" textLength="12.1" lengthAdjust="spacingAndGlyphs" >200</text>
<line x1="100.39" y1="750.8" x2="100.39" y2="754.8" stroke="#000" stroke-width="1.2"/>
<text x="100.39" y="764.1" font-family='"Liberation Sans", sans-serif' font-size="7.9" font-weight="bold" font-style="normal" text-anchor="middle" fill="#000" textLength="12.1" lengthAdjust="spacingAndGlyphs" >198</text>
<line x1="158.92" y1="750.8" x2="158.92" y2="754.8" stroke="#000" stroke-width="1.2"/>
<text x="158.92" y="764.1" font-family='"Liberation Sans", sans-serif' font-size="7.9" font-weight="bold" font-style="normal" text-anchor="middle" fill="#000" textLength="12.1" lengthAdjust="spacingAndGlyphs" >196</text>
<line x1="217.45" y1="750.8" x2="217.45" y2="754.8" stroke="#000" stroke-width="1.2"/>
<text x="217.45" y="764.1" font-family='"Liberation Sans", sans-serif' font-size="7.9" font-weight="bold" font-style="normal" text-anchor="middle" fill="#000" textLength="12.1" lengthAdjust="spacingAndGlyphs" >194</text>
<line x1="275.97" y1="750.8" x2="275.97" y2="754.8" stroke="#000" stroke-width="1.2"/>
<text x="275.97" y="764.1" font-family='"Liberation Sans", sans-serif' font-size="7.9" font-weight="bold" font-style="normal" text-anchor="middle" fill="#000" textLength="12.1" lengthAdjust="spacingAndGlyphs" >192</text>
<line x1="334.5" y1="750.8" x2="334.5" y2="754.8" stroke="#000" stroke-width="1.2"/>
<text x="334.5" y="764.1" font-family='"Liberation Sans", sans-serif' font-size="7.9" font-weight="bold" font-style="normal" text-anchor="middle" fill="#000" textLength="12.1" lengthAdjust="spacingAndGlyphs" >190</text>
<line x1="71.13" y1="750.8" x2="71.13" y2="753.3" stroke="#000" stroke-width="1.1"/>
<line x1="129.65" y1="750.8" x2="129.65" y2="753.3" stroke="#000" stroke-width="1.1"/>
<line x1="188.18" y1="750.8" x2="188.18" y2="753.3" stroke="#000" stroke-width="1.1"/>
<line x1="246.71" y1="750.8" x2="246.71" y2="753.3" stroke="#000" stroke-width="1.1"/>
<line x1="305.24" y1="750.8" x2="305.24" y2="753.3" stroke="#000" stroke-width="1.1"/>
<text x="173.65" y="773.5" font-family='"Liberation Serif", serif' font-size="9.3" font-weight="bold" font-style="normal" text-anchor="middle" fill="#000" textLength="78.7" lengthAdjust="spacingAndGlyphs" >Binding energy (ev)</text>
<text transform="translate(7.5,636.8) rotate(-90)" x="0" y="0" font-family='"Liberation Serif", serif' font-size="9.8" font-weight="bold" text-anchor="middle" textLength="59.2" lengthAdjust="spacingAndGlyphs">Intensity (u.a)</text>
<text x="23.9" y="545.4" font-family='"Liberation Serif", serif' font-size="10.6" font-weight="bold" font-style="italic" text-anchor="start" fill="#000" textLength="22.9" lengthAdjust="spacingAndGlyphs" >Cl 2p</text>
<text x="310.2" y="544.3" font-family='"Liberation Serif", serif' font-size="11.8" font-weight="bold" font-style="normal" text-anchor="start" fill="#000" textLength="12.7" lengthAdjust="spacingAndGlyphs" >(a)</text>
<circle cx="26.7" cy="560.7" r="1.9" fill="none" stroke="#333" stroke-width="0.75"/>
<text x="39.2" y="564" font-family='"Liberation Serif", serif' font-size="9.75" font-weight="bold" font-style="normal" text-anchor="start" fill="#000" textLength="82.8" lengthAdjust="spacingAndGlyphs" >Experimental result</text>
<line x1="17.7" y1="573.4" x2="36.1" y2="573.4" stroke="#0000ff" stroke-width="1.8"/>
<text x="39.2" y="576.8" font-family='"Liberation Serif", serif' font-size="9.75" font-weight="bold">Baseline</text>
<line x1="17.7" y1="586.3" x2="36.1" y2="586.3" stroke="#2a8a8a" stroke-width="1.8"/>
<circle cx="26.9" cy="586.3" r="1.8" fill="#fff" stroke="#7ac0c0" stroke-width="0.8"/>
<text x="39.2" y="589.7" font-family='"Liberation Serif", serif' font-size="9.75" font-weight="bold">Cl 2p<tspan dy="2.8" font-size="1.05em">3/2</tspan><tspan dy="-2.8"></tspan></text>
<line x1="17.7" y1="602.6" x2="36.1" y2="602.6" stroke="#ff44ff" stroke-width="1.8"/>
<path d="M24.8,602.6 L26.9,600.5 L29,602.6 L26.9,604.7 Z" fill="#fff" stroke="#ff99ff" stroke-width="0.8"/>
<text x="39.2" y="606" font-family='"Liberation Serif", serif' font-size="9.75" font-weight="bold">Cl 2p<tspan dy="2.8" font-size="1.05em">1/2</tspan><tspan dy="-2.8"></tspan></text>
<line x1="17.7" y1="618.6" x2="36.1" y2="618.6" stroke="#ff0000" stroke-width="1.8"/>
<text x="39.2" y="622" font-family='"Liberation Serif", serif' font-size="9.75" font-weight="bold">Enveloppe</text>
<path d="M352.1,702.2l25.5-.1 25.5-.2 29.5-.4 12.5-.3 10-.6 12-1.2 5.5-.7 11-1.7 10-1 7-.5 16-.8 9-.2 25,0 5.5,.2 9,.5 9.5,.7 14,1.2 26.5,2.5 13,1.1 7,.4 5,.2 8.5,.1 30,.1" fill="none" stroke="#0000ff" stroke-width="2.0" stroke-linejoin="round" stroke-linecap="round"/>
<use href="#c15" fill="none" stroke="#86c2c2" stroke-width="2.0" stroke-linejoin="round" stroke-linecap="round"/>
<use href="#c15" fill="none" stroke="#167d80" stroke-width="0.9" stroke-dasharray="2.2,1.2"/>
<use href="#c16" fill="none" stroke="#ff9cff" stroke-width="2.4" stroke-linejoin="round" stroke-linecap="round"/>
<use href="#c16" fill="none" stroke="#e020e0" stroke-width="0.9" stroke-dasharray="2.5,1.2"/>
<path d="M354.5,702.2l25.3-.1 24.5-.2 26-.3 12.5-.4 7-.5 3.5-.4 3-.5 3-.6 2.5-.7 2.5-.9 2-.8 3.5-1.8 3-2 3-2.5 3.5-3.7 3-3.6 3.5-4.7 3-4.4 7-10.7 4-5.6 2-2.4 2-2 2-1.7 2-1.3 2-.8 1-.2 1.5-.2 2,.2 1,.2 1.5,.5 2,.9 2.5,1.5 6.5,4.8 2.5,1.7 2.5,1.3 2,.7 1.5,.3 1,0 1-.1 1-.3 1-.3 1-.5 2-1.4 2-2 2-2.6 2-3.1 2-3.5 2-3.9 2-4.3 8.5-18.9 2.5-4.9 2-3.4 1.5-2.2 1-1.3 1-1 1-.9 1-.7 1-.5 1-.3 1-.1 1,.1 1,.4 1,.6 1.5,1.4 1,1.2 1,1.5 1,1.6 1.5,2.9 2.5,5.6 2.5,6.5 2.5,7.1 8,23.7 3,8.1 2.5,6.1 2,4.4 1.5,3 1.5,2.7 1.5,2.5 1.5,2.3 1.5,2 1.5,1.8 2,2.1 1.5,1.3 2,1.5 2,1.3 2,1 2,.9 2,.7 2.5,.6 2.5,.5 5,.5 6.5,.3 11,.1 17.5,.1" fill="none" stroke="#ff0000" stroke-width="2.0" stroke-linejoin="round" stroke-linecap="round"/>
<path d="M350.6,706.3l3.4,9.5 9.4,34.6 -5.9-38.6 3,8.8 6.3,.9 3.3-23.3 3.2-17.9 3.1,32.1 3.4,13.4 3.1-2.6 3.5-15.8 3.2,13.5 2.9-4.2 3.5-21.3 3.2,15.9 3.2-13.8 3.3,3.8 3.1-25 3.2,11.4 3.1-.4 3.4,5.6 3.3,30.8 3.2,7.9 3.3-10.5 3.1-7.5 3.2-20.5 3.1,19.6 3.4-31.9 3.1-12.2 3.4,9.8 2.9,13.3 3.5,31.5 3.2-10 3.1-39 3.4,21.9 6.3,21.9 3.1-4.4 3.3,8.7 3.1-28.4 3.5,21.9 3-27.5 3.2,18.4 3.5-69.4 3,19.8 3.5-18.8 3.1,48 3,4.6 3.1-26.8 3.6-32.4 3.3-5.3 3.1,22.3 3.2-8.3 3.3,4.8 3.2,30.3 3.1-14.9 3.3-3.5 3.4,14.9 3.1-43.8 3.2,0 3.1,13.1 3.4,1.8 3.3-14.9 3.1-12.6 3.4-3.2 6.3-7 3.3,10.9 3.2-10.9 3.3-36.4 3.1,26.2 3.2,54.4 3.3-13 3.2,5.2 3.2,5.2 3.1,7.6 3.5,14 3.3,8.4 3,17.2 3.4-28.7 3,19.5 3.5,13 3.1-29 3,38.1 6.4,1.5 3.5-.7 3.1,17 3.3-11.4 6.6-24.7 3,14.5 3.4-20.1 3.5,.6 3,30.4 3-21.1 3.1-21.3 3.3,27.7 3.5-4.1 3.1,11.7 6.4,24" fill="none" stroke="none" marker-start="url(#dot)" marker-mid="url(#dot)" marker-end="url(#dot)"/>
<rect x="354.3" y="529.1" width="322.2" height="222.3" rx="0.8" fill="none" stroke="#000" stroke-width="1.35"/>
<line x1="354.3" y1="751.4" x2="354.3" y2="755.4" stroke="#000" stroke-width="1.2"/>
<text x="354.3" y="764.7" font-family='"Liberation Sans", sans-serif' font-size="7.9" font-weight="bold" font-style="normal" text-anchor="middle" fill="#000" textLength="12.1" lengthAdjust="spacingAndGlyphs" >205</text>
<line x1="386.52" y1="751.4" x2="386.52" y2="755.4" stroke="#000" stroke-width="1.2"/>
<text x="386.52" y="764.7" font-family='"Liberation Sans", sans-serif' font-size="7.9" font-weight="bold" font-style="normal" text-anchor="middle" fill="#000" textLength="12.1" lengthAdjust="spacingAndGlyphs" >204</text>
<line x1="418.74" y1="751.4" x2="418.74" y2="755.4" stroke="#000" stroke-width="1.2"/>
<text x="418.74" y="764.7" font-family='"Liberation Sans", sans-serif' font-size="7.9" font-weight="bold" font-style="normal" text-anchor="middle" fill="#000" textLength="12.1" lengthAdjust="spacingAndGlyphs" >203</text>
<line x1="450.96" y1="751.4" x2="450.96" y2="755.4" stroke="#000" stroke-width="1.2"/>
<text x="450.96" y="764.7" font-family='"Liberation Sans", sans-serif' font-size="7.9" font-weight="bold" font-style="normal" text-anchor="middle" fill="#000" textLength="12.1" lengthAdjust="spacingAndGlyphs" >202</text>
<line x1="483.18" y1="751.4" x2="483.18" y2="755.4" stroke="#000" stroke-width="1.2"/>
<text x="483.18" y="764.7" font-family='"Liberation Sans", sans-serif' font-size="7.9" font-weight="bold" font-style="normal" text-anchor="middle" fill="#000" textLength="12.1" lengthAdjust="spacingAndGlyphs" >201</text>
<line x1="515.4" y1="751.4" x2="515.4" y2="755.4" stroke="#000" stroke-width="1.2"/>
<text x="515.4" y="764.7" font-family='"Liberation Sans", sans-serif' font-size="7.9" font-weight="bold" font-style="normal" text-anchor="middle" fill="#000" textLength="12.1" lengthAdjust="spacingAndGlyphs" >200</text>
<line x1="547.62" y1="751.4" x2="547.62" y2="755.4" stroke="#000" stroke-width="1.2"/>
<text x="547.62" y="764.7" font-family='"Liberation Sans", sans-serif' font-size="7.9" font-weight="bold" font-style="normal" text-anchor="middle" fill="#000" textLength="12.1" lengthAdjust="spacingAndGlyphs" >199</text>
<line x1="579.84" y1="751.4" x2="579.84" y2="755.4" stroke="#000" stroke-width="1.2"/>
<text x="579.84" y="764.7" font-family='"Liberation Sans", sans-serif' font-size="7.9" font-weight="bold" font-style="normal" text-anchor="middle" fill="#000" textLength="12.1" lengthAdjust="spacingAndGlyphs" >198</text>
<line x1="612.06" y1="751.4" x2="612.06" y2="755.4" stroke="#000" stroke-width="1.2"/>
<text x="612.06" y="764.7" font-family='"Liberation Sans", sans-serif' font-size="7.9" font-weight="bold" font-style="normal" text-anchor="middle" fill="#000" textLength="12.1" lengthAdjust="spacingAndGlyphs" >197</text>
<line x1="644.28" y1="751.4" x2="644.28" y2="755.4" stroke="#000" stroke-width="1.2"/>
<text x="644.28" y="764.7" font-family='"Liberation Sans", sans-serif' font-size="7.9" font-weight="bold" font-style="normal" text-anchor="middle" fill="#000" textLength="12.1" lengthAdjust="spacingAndGlyphs" >196</text>
<line x1="676.5" y1="751.4" x2="676.5" y2="755.4" stroke="#000" stroke-width="1.2"/>
<text x="676.5" y="764.7" font-family='"Liberation Sans", sans-serif' font-size="7.9" font-weight="bold" font-style="normal" text-anchor="middle" fill="#000" textLength="12.1" lengthAdjust="spacingAndGlyphs" >195</text>
<line x1="370.41" y1="751.4" x2="370.41" y2="753.9" stroke="#000" stroke-width="1.1"/>
<line x1="402.63" y1="751.4" x2="402.63" y2="753.9" stroke="#000" stroke-width="1.1"/>
<line x1="434.85" y1="751.4" x2="434.85" y2="753.9" stroke="#000" stroke-width="1.1"/>
<line x1="467.07" y1="751.4" x2="467.07" y2="753.9" stroke="#000" stroke-width="1.1"/>
<line x1="499.29" y1="751.4" x2="499.29" y2="753.9" stroke="#000" stroke-width="1.1"/>
<line x1="531.51" y1="751.4" x2="531.51" y2="753.9" stroke="#000" stroke-width="1.1"/>
<line x1="563.73" y1="751.4" x2="563.73" y2="753.9" stroke="#000" stroke-width="1.1"/>
<line x1="595.95" y1="751.4" x2="595.95" y2="753.9" stroke="#000" stroke-width="1.1"/>
<line x1="628.17" y1="751.4" x2="628.17" y2="753.9" stroke="#000" stroke-width="1.1"/>
<line x1="660.39" y1="751.4" x2="660.39" y2="753.9" stroke="#000" stroke-width="1.1"/>
<text x="515.75" y="774.1" font-family='"Liberation Serif", serif' font-size="9.3" font-weight="bold" font-style="normal" text-anchor="middle" fill="#000" textLength="80.7" lengthAdjust="spacingAndGlyphs" >Binding energy (eV)</text>
<text transform="translate(347.2,640.2) rotate(-90)" x="0" y="0" font-family='"Liberation Serif", serif' font-size="9.8" font-weight="bold" text-anchor="middle" textLength="60.8" lengthAdjust="spacingAndGlyphs">Intensity (u.a.)</text>
<text x="370.8" y="545" font-family='"Liberation Serif", serif' font-size="10.6" font-weight="bold" font-style="italic" text-anchor="start" fill="#000" textLength="23.1" lengthAdjust="spacingAndGlyphs" >Cl 2p</text>
<text x="654.8" y="547.1" font-family='"Liberation Serif", serif' font-size="11.8" font-weight="bold" font-style="normal" text-anchor="start" fill="#000" textLength="13.1" lengthAdjust="spacingAndGlyphs" >(b)</text>
<circle cx="373.4" cy="566.4" r="1.9" fill="none" stroke="#333" stroke-width="0.75"/>
<text x="384.7" y="569.7" font-family='"Liberation Serif", serif' font-size="9.75" font-weight="bold" font-style="normal" text-anchor="start" fill="#000" textLength="82.8" lengthAdjust="spacingAndGlyphs" >Experimental result</text>
<line x1="365.2" y1="578.5" x2="381.6" y2="578.5" stroke="#0000ff" stroke-width="1.8"/>
<text x="384.7" y="581.9" font-family='"Liberation Serif", serif' font-size="9.75" font-weight="bold">Baseline</text>
<line x1="365.2" y1="591" x2="381.6" y2="591" stroke="#2a8a8a" stroke-width="1.8"/>
<circle cx="373.4" cy="591" r="1.8" fill="#fff" stroke="#7ac0c0" stroke-width="0.8"/>
<text x="384.7" y="594.4" font-family='"Liberation Serif", serif' font-size="9.75" font-weight="bold">Cl 2p<tspan dy="2.8" font-size="1.05em">3/2</tspan><tspan dy="-2.8"></tspan></text>
<line x1="365.2" y1="607.1" x2="381.6" y2="607.1" stroke="#ff44ff" stroke-width="1.8"/>
<path d="M371.3,607.1 L373.4,605 L375.5,607.1 L373.4,609.2 Z" fill="#fff" stroke="#ff99ff" stroke-width="0.8"/>
<text x="386.7" y="610.5" font-family='"Liberation Serif", serif' font-size="9.75" font-weight="bold">Cl 2p<tspan dy="2.8" font-size="1.05em">1/2</tspan><tspan dy="-2.8"></tspan></text>
<line x1="365.2" y1="622.7" x2="381.6" y2="622.7" stroke="#ff0000" stroke-width="1.8"/>
<text x="384.7" y="626.1" font-family='"Liberation Serif", serif' font-size="9.75" font-weight="bold">Enveloppe</text>
<path d="M11.8,887.4l4,.1 7,.5 37.5,2.5 10.5,.9 13,1.4 5.5,.4 24,1.1 4,.5 1.5,.3 1.5,.4 2,.8 2.5,1.5 2.5,1.9 2.5,2.2 2,2 2,2.2 8,9.4 3,3.4 2.5,2.6 2.5,2.3 2.5,2 3,2 11.5,6.7 3,1.6 2.5,1 3,1.1 4,1.1 3.5,.8 3.5,.7 4.5,.8 7,1 3,.7 6,2.2 6,1.9 2,.9 1.5,1 2,1.6 2,1.9 2.5,2.6 3,3.5 4.5,5.7 11,14.7 3.5,4.3 2.5,2.8 3,2.9 3,2.4 5,3.4 3.5,1.9 3,1.2 3,.8 3,.5 4.5,.3 12,.4 14,.3 26,.4 19.5,.1" fill="none" stroke="#0000ff" stroke-width="2.0" stroke-linejoin="round" stroke-linecap="round"/>
<use href="#c17" fill="none" stroke="#6e6eb4" stroke-width="2.4" stroke-linejoin="round" stroke-linecap="round"/>
<use href="#c17" fill="none" stroke="#d4d4ee" stroke-width="0.8"/>
<use href="#c18" fill="none" stroke="#b2b070" stroke-width="2.6" stroke-linejoin="round" stroke-linecap="round"/>
<use href="#c18" fill="none" stroke="#ecebd0" stroke-width="0.9"/>
<use href="#c19" fill="none" stroke="#8ccaca" stroke-width="1.9" stroke-linejoin="round" stroke-linecap="round"/>
<use href="#c19" fill="none" stroke="#1f8585" stroke-width="1.0" stroke-dasharray="1.2,1.1"/>
<use href="#c20" fill="none" stroke="#ff55ff" stroke-width="2.4" stroke-linejoin="round" stroke-linecap="round"/>
<use href="#c20" fill="none" stroke="#ffb0ff" stroke-width="0.7"/>
<path d="M14.2,887.5l15.8,.9 39,2.7 8.5,.5 4,0 3.5-.3 3-.6 3-.9 3-1.4 3-1.9 3-2.5 3-3.2 3-3.8 3.5-5.2 3-5.1 7-12.6 2-3.2 1.5-2.1 1.5-1.8 1-1 2-1.6 1-.6 1-.4 1-.2 1,0 1,.2 1,.3 1,.6 1.5,1.2 1.5,1.5 1,1.3 2,3.1 2,3.8 2.5,5.6 8,20.3 3,6.9 2,4 1.5,2.5 1.5,2.1 1.5,1.6 1.5,1.1 1,.5 1,.2 1.5,0 1-.3 1.5-.7 4.5-3.1 1.5-.8 1-.3 1-.2 1.5,.2 1,.3 1,.5 1,.6 1.5,1.1 2,1.9 5,5.2 1.5,1.3 1.5,1.1 1.5,.8 1.5,.4 1.5,.1 1-.1 1-.2 2-.8 2-1.3 2-1.9 1.5-1.8 2-2.9 2-3.5 2.5-4.9 2-4.3 2.5-6.3 2.5-7.6 2.5-9 3.5-13.9 6.5-21.1 1-2.8 1-2.1 .5-.8 .5-.4 .5-.2 .5,0 .5,.4 .5,.7 .5,1 .5,1.3 1,3.4 1.5,7 1,5.9 1,6.6 1.5,11.3 1.5,12.4 7,62.6 2,15.7 2,13.4 1.5,8.3 1,4.6 1,4 1,3.4 1,2.9 1,2.3 1.5,2.8 1,1.5 1.5,1.6 1.5,1.3 1.5,.9 1.5,.6 2,.6 2.5,.5 2.5,.4 6.5,.5 9.5,.3 26.5,.4 21.4,.2" fill="none" stroke="#ff0000" stroke-width="2.0" stroke-linejoin="round" stroke-linecap="round"/>
<path d="M12.5,884.3l1.2,7.3 1.2,3.3 1.2-5.4 1.2,1 1.2-4.8 1.2-3 1.2,3.9 1.2,6 1.2-11.7 1.2,4.8 1.2-5 1.2,7 1.2,2.7 1.2-7.5 1.2,2.8 1.2,6 1.2-5 1.2-4.1 1.2-.4 1.2-2.6 1.2,9.6 1.2-5.5 1.2,6.1 1.2-.8 1.2-5.5 1.2,.2 1.2,4.4 1.2-2.5 1.2,.2 1.2-6.9 1.2,8.6 1.2-6.4 1.2-5.1 1.2,5.5 1.2,3.4 1.2,5.7 1.2-8.9 1.2-3.5 1.2,11.9 1.2-7.1 1.2-1.6 1.2-2.9 1.2,.1 1.2,8.7 1.2-6.2 1.2-.9 1.2,.1 1.2,7.4 1.2-7.5 1.2,4.4 1.2-1.1 1.2,.1 1.2-3.8 1.2,5.6 1.2,3.6 1.2-5.6 1.2-2.8 1.2-1.1 1.2,5.4 1.2-1.4 1.2,.7 1.2,.5 1.2-5.2 1.2,7.9 1.2-1.9 1.2-1.3 1.2,.9 1.2,2.1 1.2-3.4 1.2-3.7 1.2,6.5 1.2-6.3 1.2-1.9 1.2-3.8 1.2,4.4 1.2-4.8 1.2,.5 1.2,2 1.2-3 1.2,1.8 1.2-4.2 1.2-4.4 1.2-1.6 1.2-2.7 1.2,2 1.2-4.3 1.2-3.6 1.2,2.3 1.2-4.7 1.2-3.9 1.2-5.4 1.2,5.2 1.2-2.1 1.2-1.9 1.2-2.8 1.2-2.2 1.2,1.5 1.2,1.3 1.2-1.3 1.2,.1 1.2-.7 1.2,3.6 1.2,.6 1.2-2.2 1.2,6.9 1.2,1.9 1.2,2.1 1.2-1 1.2,2.3 1.2-.7 1.2,9.6 1.2-7.2 1.2,9.2 1.2,3.3 1.2,7.2 1.2,0 1.2-.4 1.2,1.2 1.2,5 1.2,5.3 1.2,1.9 1.2,.9 1.2-.3 1.2,2.7 1.2,5.1 1.2-6.9 1.2,4.2 1.2,5.5 1.2-3.9 1.2-3.9 1.2,3.5 1.2-5.3 1.2,2.2 1.2,5 1.2,.9 1.2-12.9 1.2,8.4 1.2,4.6 1.2-8.4 1.2,3.4 1.2,5.2 1.2-6.1 1.2,4.3 1.2-.7 1.2-5.3 1.2,9.3 1.2-.6 1.2,5.1 1.2,5.3 1.2-3.9 1.2-2.8 1.2,3.6 1.2-.4 1.2,3.1 1.2-8.5 1.2,.8 1.2-3.4 1.2,8.8 1.2-2.9 1.2-3 1.2-1.3 1.2-.7 1.2-2.8 1.2,.4 1.2-2.5 1.2,4.5 1.2-5.9 1.2-6.4 1.2-1.7 1.2,3.6 1.2-5.5 1.2-3.7 1.2-2 1.2-.7 1.2-13.9 1.2-2.7 1.2-8.2 1.2,2.9 1.2-7.8 1.2-5.1 1.2-4 1.2,1.3 1.2-7 1.2-5.4 1.2,2.6 1.2-10.9 1.2-2.5 1.2,13.3 1.2-8.8 1.2,2.7 1.2,4.2 1.2,8.3 1.2,10.7 1.2,8.4 1.2,8.6 1.2,7.2 1.2,6.3 1.2,17 1.2,15.2 1.2,9.2 1.2,6.1 1.2,13.3 1.2,5 1.2,9.6 1.2,3.3 1.2,9.7 1.2,7.1 1.2,3.4 1.2,6.9 1.2,6.8 1.2,.2 1.2-3.9 1.2-.2 1.2,1.3 1.2-.4 1.2,4.1 1.2,1.8 1.2-.4 1.2,.4 1.2,.2 1.2-.7 1.2-1.9 1.2,9 1.2-2 1.2-6.5 1.2,.4 1.2,1.5 1.2,2.5 1.2,4.7 1.2-.5 1.2,.5 1.2,.4 1.2,.4 1.2-1 1.2-.8 1.2-1.7 1.2-5.5 1.2,5.8 1.2,6.9 1.2-8 1.2-.2 1.2,5.9 1.2-3.2 1.2-1.9 1.2,7.2 1.2-3.2 1.2,.5 1.2-4.6 1.2,3.8 1.2-.4 1.2,1.4 1.2,1.3 1.2,0 1.2-3.3 1.2,1.8 1.2-6.4 1.2,6.3 1.2,.1 1.2-3.7 1.2-1.4 1.2,2.6 1.2-4.1 1.2,5.5 1.2-.2 1.2-4.3 1.2,3.5 1.2,3.6 1.2,0 1.2-.2 1.2-4.1 1.2-.6 1.2-.2 1.2,3.5 1.2,6.1 1.2-3.3 1.2,.6 1.2-.8" fill="none" stroke="none" marker-start="url(#dot)" marker-mid="url(#dot)" marker-end="url(#dot)"/>
<rect x="14" y="799.6" width="330.6" height="225.1" rx="0.8" fill="none" stroke="#000" stroke-width="1.35"/>
<line x1="21.51" y1="1024.7" x2="21.51" y2="1028.7" stroke="#000" stroke-width="1.2"/>
<text x="21.51" y="1037.7" font-family='"Liberation Sans", sans-serif' font-size="7.9" font-weight="bold" font-style="normal" text-anchor="middle" fill="#000" textLength="12.1" lengthAdjust="spacingAndGlyphs" >740</text>
<line x1="59.08" y1="1024.7" x2="59.08" y2="1028.7" stroke="#000" stroke-width="1.2"/>
<text x="59.08" y="1037.7" font-family='"Liberation Sans", sans-serif' font-size="7.9" font-weight="bold" font-style="normal" text-anchor="middle" fill="#000" textLength="12.1" lengthAdjust="spacingAndGlyphs" >735</text>
<line x1="96.65" y1="1024.7" x2="96.65" y2="1028.7" stroke="#000" stroke-width="1.2"/>
<text x="96.65" y="1037.7" font-family='"Liberation Sans", sans-serif' font-size="7.9" font-weight="bold" font-style="normal" text-anchor="middle" fill="#000" textLength="12.1" lengthAdjust="spacingAndGlyphs" >730</text>
<line x1="134.22" y1="1024.7" x2="134.22" y2="1028.7" stroke="#000" stroke-width="1.2"/>
<text x="134.22" y="1037.7" font-family='"Liberation Sans", sans-serif' font-size="7.9" font-weight="bold" font-style="normal" text-anchor="middle" fill="#000" textLength="12.1" lengthAdjust="spacingAndGlyphs" >725</text>
<line x1="171.79" y1="1024.7" x2="171.79" y2="1028.7" stroke="#000" stroke-width="1.2"/>
<text x="171.79" y="1037.7" font-family='"Liberation Sans", sans-serif' font-size="7.9" font-weight="bold" font-style="normal" text-anchor="middle" fill="#000" textLength="12.1" lengthAdjust="spacingAndGlyphs" >720</text>
<line x1="209.35" y1="1024.7" x2="209.35" y2="1028.7" stroke="#000" stroke-width="1.2"/>
<text x="209.35" y="1037.7" font-family='"Liberation Sans", sans-serif' font-size="7.9" font-weight="bold" font-style="normal" text-anchor="middle" fill="#000" textLength="12.1" lengthAdjust="spacingAndGlyphs" >715</text>
<line x1="246.92" y1="1024.7" x2="246.92" y2="1028.7" stroke="#000" stroke-width="1.2"/>
<text x="246.92" y="1037.7" font-family='"Liberation Sans", sans-serif' font-size="7.9" font-weight="bold" font-style="normal" text-anchor="middle" fill="#000" textLength="12.1" lengthAdjust="spacingAndGlyphs" >710</text>
<line x1="284.49" y1="1024.7" x2="284.49" y2="1028.7" stroke="#000" stroke-width="1.2"/>
<text x="284.49" y="1037.7" font-family='"Liberation Sans", sans-serif' font-size="7.9" font-weight="bold" font-style="normal" text-anchor="middle" fill="#000" textLength="12.1" lengthAdjust="spacingAndGlyphs" >705</text>
<line x1="322.06" y1="1024.7" x2="322.06" y2="1028.7" stroke="#000" stroke-width="1.2"/>
<text x="322.06" y="1037.7" font-family='"Liberation Sans", sans-serif' font-size="7.9" font-weight="bold" font-style="normal" text-anchor="middle" fill="#000" textLength="12.1" lengthAdjust="spacingAndGlyphs" >700</text>
<line x1="40.3" y1="1024.7" x2="40.3" y2="1027.2" stroke="#000" stroke-width="1.1"/>
<line x1="77.87" y1="1024.7" x2="77.87" y2="1027.2" stroke="#000" stroke-width="1.1"/>
<line x1="115.43" y1="1024.7" x2="115.43" y2="1027.2" stroke="#000" stroke-width="1.1"/>
<line x1="153" y1="1024.7" x2="153" y2="1027.2" stroke="#000" stroke-width="1.1"/>
<line x1="190.57" y1="1024.7" x2="190.57" y2="1027.2" stroke="#000" stroke-width="1.1"/>
<line x1="228.14" y1="1024.7" x2="228.14" y2="1027.2" stroke="#000" stroke-width="1.1"/>
<line x1="265.71" y1="1024.7" x2="265.71" y2="1027.2" stroke="#000" stroke-width="1.1"/>
<line x1="303.28" y1="1024.7" x2="303.28" y2="1027.2" stroke="#000" stroke-width="1.1"/>
<line x1="340.84" y1="1024.7" x2="340.84" y2="1027.2" stroke="#000" stroke-width="1.1"/>
<text x="179.15" y="1047.9" font-family='"Liberation Serif", serif' font-size="9.5" font-weight="bold" font-style="normal" text-anchor="middle" fill="#000" textLength="79.9" lengthAdjust="spacingAndGlyphs" >Binding energy (ev)</text>
<text transform="translate(7.5,911.8) rotate(-90)" x="0" y="0" font-family='"Liberation Serif", serif' font-size="9.8" font-weight="bold" text-anchor="middle" textLength="61.8" lengthAdjust="spacingAndGlyphs">Intensity (u.a.)</text>
<text x="26.3" y="820" font-family='"Liberation Serif", serif' font-size="10.6" font-weight="bold" font-style="italic" text-anchor="start" fill="#000" textLength="24.7" lengthAdjust="spacingAndGlyphs" >Fe 2p</text>
<text x="319.6" y="817.4" font-family='"Liberation Serif", serif' font-size="11.8" font-weight="bold" font-style="normal" text-anchor="start" fill="#000" textLength="12.4" lengthAdjust="spacingAndGlyphs" >(a)</text>
<circle cx="32" cy="923.9" r="1.9" fill="none" stroke="#333" stroke-width="0.75"/>
<text x="46.3" y="927.2" font-family='"Liberation Serif", serif' font-size="9.75" font-weight="bold" font-style="normal" text-anchor="start" fill="#000" textLength="82.6" lengthAdjust="spacingAndGlyphs" >Experimental result</text>
<line x1="21.2" y1="936.2" x2="42.6" y2="936.2" stroke="#0000ff" stroke-width="1.8"/>
<text x="46.3" y="939.6" font-family='"Liberation Serif", serif' font-size="9.75" font-weight="bold">Baseline</text>
<line x1="21.2" y1="948.9" x2="42.6" y2="948.9" stroke="#4a9c9c" stroke-width="1.8"/>
<path d="M30,950.3 L33.8,950.3 L31.9,947 Z M30,948.3 L33.8,948.3 L31.9,951.1 Z" fill="#fff" stroke="#8cc8c8" stroke-width="0.6"/>
<text x="46.3" y="952.3" font-family='"Liberation Serif", serif' font-size="9.75" font-weight="bold">FeOOH/Fe<tspan dy="2.8" font-size="1.05em">2</tspan><tspan dy="-2.8">O</tspan><tspan dy="2.8" font-size="1.05em">3</tspan><tspan dy="-2.8"></tspan></text>
<line x1="21.2" y1="965.6" x2="42.6" y2="965.6" stroke="#4a4a9a" stroke-width="1.8"/>
<path d="M29.8,965.6 L31.9,963.5 L34,965.6 L31.9,967.7 Z" fill="#fff" stroke="#6a6ab4" stroke-width="0.8"/>
<text x="46.3" y="969" font-family='"Liberation Serif", serif' font-size="9.75" font-weight="bold">FeCl<tspan dy="2.8" font-size="1.05em">3</tspan><tspan dy="-2.8">/FeOOH</tspan></text>
<line x1="21.2" y1="982.6" x2="42.6" y2="982.6" stroke="#8c8a40" stroke-width="1.8"/>
<path d="M29.9,984.1 L33.9,984.1 L31.9,980.7 Z" fill="#fff" stroke="#b8b67a" stroke-width="0.75"/>
<text x="46.3" y="986" font-family='"Liberation Serif", serif' font-size="9.75" font-weight="bold">Fe 2p<tspan dy="2.8" font-size="1.05em">3/2</tspan><tspan dy="-2.8">Satellites</tspan></text>
<line x1="21.2" y1="999.4" x2="42.6" y2="999.4" stroke="#ff55ff" stroke-width="1.8"/>
<path d="M30,1000.8 L33.8,1000.8 L31.9,997.5 Z M30,998.8 L33.8,998.8 L31.9,1001.6 Z" fill="#fff" stroke="#ff99ff" stroke-width="0.6"/>
<text x="46.3" y="1002.8" font-family='"Liberation Serif", serif' font-size="9.75" font-weight="bold">Fe 2p<tspan dy="2.8" font-size="1.05em">1/2</tspan><tspan dy="-2.8"></tspan></text>
<line x1="21.2" y1="1016.3" x2="42.6" y2="1016.3" stroke="#ff0000" stroke-width="1.8"/>
<text x="46.3" y="1019.7" font-family='"Liberation Serif", serif' font-size="9.75" font-weight="bold">Enveloppe</text>
<path d="M357.9,887.5l49.5,0 13.5,.1 9.5,.2 5.5,.4 5,.7 3.5,.9 3.5,1.4 3,1.5 3,1.8 2.5,1.8 2.5,2.2 3,2.9 4,4.1 9,10 3.5,3.7 3.5,3.6 2.5,2.2 2.5,2 2.5,1.8 3,1.8 3,1.7 6.5,3.2 6,3.2 2,.9 2,.7 2,.4 2.5,.4 22.5,2.5 8,1.1 3.5,.7 2.5,.7 2.5,1 2,1.2 2,1.5 2.5,2.3 2.5,2.7 2.5,3.2 5,6.9 11.5,17.2 3,4.1 2.5,3.1 2.5,2.6 1.5,1.2 1.5,1.1 1.5,1 1.5,.7 3,1.2 2,.6 2,.3 2,.2 2,0 9.5-.4 12.5-1 5.5-.3 23.5-.4 25-.1" fill="none" stroke="#0000ff" stroke-width="2.0" stroke-linejoin="round" stroke-linecap="round"/>
<use href="#c21" fill="none" stroke="#9a9ad4" stroke-width="2.4" stroke-linejoin="round" stroke-linecap="round"/>
<use href="#c21" fill="none" stroke="#e4e4f6" stroke-width="0.8"/>
<use href="#c22" fill="none" stroke="#b2b070" stroke-width="2.6" stroke-linejoin="round" stroke-linecap="round"/>
<use href="#c22" fill="none" stroke="#ecebd0" stroke-width="0.9"/>
<use href="#c23" fill="none" stroke="#8ccaca" stroke-width="1.9" stroke-linejoin="round" stroke-linecap="round"/>
<use href="#c23" fill="none" stroke="#1f8585" stroke-width="1.0" stroke-dasharray="1.2,1.1"/>
<use href="#c24" fill="none" stroke="#ff55ff" stroke-width="2.4" stroke-linejoin="round" stroke-linecap="round"/>
<use href="#c24" fill="none" stroke="#ffb0ff" stroke-width="0.7"/>
<path d="M360.3,887.5l63.3,0 4.5-.2 4-.4 3-.6 3-.8 1.5-.6 1.5-.8 1.5-.9 1.5-1 2.5-2.1 2.5-2.6 2.5-3.3 2.5-3.8 2.5-4.3 6.5-11.5 1.5-2.4 1.5-2.2 2-2.4 1.5-1.2 1.5-.8 1-.1 .5,0 1,.2 1,.5 1,.8 1,1 1,1.3 1,1.6 2,3.7 2,4.5 2,5.1 7.5,21.2 3,7.9 2,4.4 1.5,2.8 1.5,2.2 1.5,1.7 1,.9 1.5,.7 1.5,.3 1.5-.3 1-.4 1.5-1 4.5-3.9 1.5-1.1 1-.6 1-.3 1-.1 1,.2 1,.3 1,.6 1,.6 1.5,1.3 2,2.1 5,5.7 1.5,1.5 1,.8 1.5,.9 1.5,.6 1.5,.1 1.5-.3 1-.5 1-.6 1-.8 1-1 2-2.4 2-2.9 2.5-4.1 3-5.5 3-6.1 2-4.7 1.5-4 1.5-4.6 1.5-5.4 1-4 2-8.9 4.5-21.9 1-4.4 1-3.9 1.5-4.7 1-2.2 .5-.7 .5-.5 .5-.2 .5,.1 .5,.4 .5,.7 .5,1.1 1,3.3 1,4.8 1.5,9.8 1.5,12.3 4,36.7 5.5,48.7 2,16.2 1.5,10.6 1.5,8.9 1,4.9 1,4.1 1.5,4.9 1,2.5 1,1.9 1,1.5 1,1.2 1,1 1.5,1 1.5,.6 1.5,.5 2,.4 2.5,.2 3,.1 3,0 11-.8 6.5-.2 22-.3 21.5-.1" fill="none" stroke="#ff0000" stroke-width="2.0" stroke-linejoin="round" stroke-linecap="round"/>
<path d="M358.6,881.7l1.2,5 1.2-.9 1.2,5.9 1.2,1.5 1.2-8.3 1.2,2.4 1.2,1.7 1.2-3.7 1.2-.5 1.2-.3 1.2,5.4 1.2-6.4 1.2,7 1.2-3.8 1.2,2.2 1.2,2.6 1.2-7.9 1.2-.7 1.2,4.1 1.2-5.3 1.2,.8 1.2,1.9 1.2,.7 1.2-5.1 1.2,2.7 1.2,3.1 1.2,2.4 1.2-11.9 1.2,11.2 1.2-1.8 1.2-7.1 1.2-1.6 1.2,6.3 1.2-3.1 1.2,1.7 1.2,2.3 1.2-4.5 1.2,1.7 1.2,1 1.2,1.3 1.2,3 1.2-.2 1.2-5.1 1.2-1.7 1.2,9.2 1.2-6 1.2-.6 1.2-5.2 1.2,6.7 1.2-5.2 1.2,1.3 1.2-2.8 1.2,3.1 1.2,2.2 1.2-5.2 1.2,2.4 1.2,3 1.2-3.9 1.2,.2 1.2,1.6 1.2-1.8 1.2,7.1 1.2-5.6 1.2,6.2 1.2,.4 1.2-7.5 1.2,4 1.2-2.1 1.2-2.7 1.2,2.2 1.2-.3 1.2,2.5 1.2,.2 1.2-8.4 1.2,1.2 1.2,2 1.2,.7 1.2-14.2 1.2,11.2 1.2-7 1.2,4 1.2-8.9 1.2-3.5 1.2,.9 1.2,1.8 1.2-6 1.2-10.4 1.2,8.6 1.2-9.8 1.2,.6 1.2-2.1 1.2-3.4 1.2,1.2 1.2,.5 1.2,1.2 1.2,2.3 1.2-.3 1.2-2.9 1.2,6 1.2,5.9 1.2,2 1.2-.4 1.2,4.4 1.2,3.9 1.2,4.7 1.2,4.4 1.2-3.7 1.2,3.6 1.2,9.6 1.2,3.7 1.2,3.2 1.2-10.4 1.2,10.4 1.2-7.9 1.2,16.4 1.2-.2 1.2,1.7 1.2,.8 1.2,6 1.2-4.9 1.2,5 1.2-1.7 1.2-1 1.2-.1 1.2-2 1.2-5.1 1.2,5.3 1.2-1 1.2-3.9 1.2,2.3 1.2,.1 1.2-7.8 1.2,4.1 1.2-.6 1.2-.9 1.2,5.3 1.2-3 1.2,2.8 1.2,3.8 1.2,1.8 1.2,1.5 1.2,8.2 1.2-8.2 1.2,4 1.2-3.9 1.2,6.9 1.2,3.1 1.2,.7 1.2-6.2 1.2,1.2 1.2,5 1.2-5.3 1.2,2.8 1.2-7.9 1.2,6.9 1.2-2.8 1.2-3.6 1.2-6.3 1.2,.3 1.2-1 1.2-1.8 1.2-3.6 1.2-2.7 1.2-1.1 1.2,1.6 1.2-14.7 1.2-.9 1.2-4 1.2-.9 1.2-8 1.2,3.2 1.2-6.9 1.2-6.9 1.2-7.4 1.2-3 1.2-5.7 1.2-4.8 1.2-8.4 1.2,1 1.2-10.1 1.2,8.1 1.2-14.8 1.2,10.9 1.2,2.2 1.2,13.4 1.2,.4 1.2,21.4 1.2-1 1.2,23.6 1.2,5.5 1.2,9.2 1.2,11.8 1.2,16.6 1.2,6.1 1.2-.5 1.2,21.7 1.2,5.7 1.2,1.5 1.2,15.2 1.2-1.1 1.2,9.4 1.2,3.7 1.2-.4 1.2,6.6 1.2-4.5 1.2,5.3 1.2-1.8 1.2,1.8 1.2,7.8 1.2-6 1.2-3.9 1.2,3.7 1.2-2 1.2,3.1 1.2,.8 1.2,0 1.2,.3 1.2-2 1.2,3.8 1.2,2.3 1.2-5.7 1.2,2.1 1.2,.6 1.2,4.3 1.2-.6 1.2-6.2 1.2,2.8 1.2-5.4 1.2,1.8 1.2,3.5 1.2,2.2 1.2,1.1 1.2-4.4 1.2-3.7 1.2,6.1 1.2-2 1.2,2.1 1.2-.9 1.2,1.9 1.2-.2 1.2,.6 1.2-4.6 1.2,5.1 1.2-5.2 1.2,2 1.2,6.2 1.2-5.3 1.2-5.3 1.2,9.3 1.2-1.8 1.2,.5 1.2-3.3 1.2,.5 1.2-2 1.2-1.7 1.2,7.8 1.2-6.6 1.2-.4 1.2,.1 1.2,8.1 1.2-3.5 1.2-4.4 1.2,1.2 1.2,1.9 1.2,1.3 1.2-8.7 1.2,8.8 1.2-4 1.2-1.6 1.2,1" fill="none" stroke="none" marker-start="url(#dot)" marker-mid="url(#dot)" marker-end="url(#dot)"/>
<rect x="360.1" y="799.1" width="322.2" height="221.7" rx="0.8" fill="none" stroke="#000" stroke-width="1.35"/>
<line x1="360.1" y1="1020.8" x2="360.1" y2="1024.8" stroke="#000" stroke-width="1.2"/>
<text x="360.1" y="1034" font-family='"Liberation Sans", sans-serif' font-size="7.9" font-weight="bold" font-style="normal" text-anchor="middle" fill="#000" textLength="12.1" lengthAdjust="spacingAndGlyphs" >740</text>
<line x1="397.48" y1="1020.8" x2="397.48" y2="1024.8" stroke="#000" stroke-width="1.2"/>
<text x="397.48" y="1034" font-family='"Liberation Sans", sans-serif' font-size="7.9" font-weight="bold" font-style="normal" text-anchor="middle" fill="#000" textLength="12.1" lengthAdjust="spacingAndGlyphs" >735</text>
<line x1="434.86" y1="1020.8" x2="434.86" y2="1024.8" stroke="#000" stroke-width="1.2"/>
<text x="434.86" y="1034" font-family='"Liberation Sans", sans-serif' font-size="7.9" font-weight="bold" font-style="normal" text-anchor="middle" fill="#000" textLength="12.1" lengthAdjust="spacingAndGlyphs" >730</text>
<line x1="472.23" y1="1020.8" x2="472.23" y2="1024.8" stroke="#000" stroke-width="1.2"/>
<text x="472.23" y="1034" font-family='"Liberation Sans", sans-serif' font-size="7.9" font-weight="bold" font-style="normal" text-anchor="middle" fill="#000" textLength="12.1" lengthAdjust="spacingAndGlyphs" >725</text>
<line x1="509.61" y1="1020.8" x2="509.61" y2="1024.8" stroke="#000" stroke-width="1.2"/>
<text x="509.61" y="1034" font-family='"Liberation Sans", sans-serif' font-size="7.9" font-weight="bold" font-style="normal" text-anchor="middle" fill="#000" textLength="12.1" lengthAdjust="spacingAndGlyphs" >720</text>
<line x1="546.99" y1="1020.8" x2="546.99" y2="1024.8" stroke="#000" stroke-width="1.2"/>
<text x="546.99" y="1034" font-family='"Liberation Sans", sans-serif' font-size="7.9" font-weight="bold" font-style="normal" text-anchor="middle" fill="#000" textLength="12.1" lengthAdjust="spacingAndGlyphs" >715</text>
<line x1="584.37" y1="1020.8" x2="584.37" y2="1024.8" stroke="#000" stroke-width="1.2"/>
<text x="584.37" y="1034" font-family='"Liberation Sans", sans-serif' font-size="7.9" font-weight="bold" font-style="normal" text-anchor="middle" fill="#000" textLength="12.1" lengthAdjust="spacingAndGlyphs" >710</text>
<line x1="621.75" y1="1020.8" x2="621.75" y2="1024.8" stroke="#000" stroke-width="1.2"/>
<text x="621.75" y="1034" font-family='"Liberation Sans", sans-serif' font-size="7.9" font-weight="bold" font-style="normal" text-anchor="middle" fill="#000" textLength="12.1" lengthAdjust="spacingAndGlyphs" >705</text>
<line x1="659.13" y1="1020.8" x2="659.13" y2="1024.8" stroke="#000" stroke-width="1.2"/>
<text x="659.13" y="1034" font-family='"Liberation Sans", sans-serif' font-size="7.9" font-weight="bold" font-style="normal" text-anchor="middle" fill="#000" textLength="12.1" lengthAdjust="spacingAndGlyphs" >700</text>
<line x1="378.79" y1="1020.8" x2="378.79" y2="1023.3" stroke="#000" stroke-width="1.1"/>
<line x1="416.17" y1="1020.8" x2="416.17" y2="1023.3" stroke="#000" stroke-width="1.1"/>
<line x1="453.55" y1="1020.8" x2="453.55" y2="1023.3" stroke="#000" stroke-width="1.1"/>
<line x1="490.92" y1="1020.8" x2="490.92" y2="1023.3" stroke="#000" stroke-width="1.1"/>
<line x1="528.3" y1="1020.8" x2="528.3" y2="1023.3" stroke="#000" stroke-width="1.1"/>
<line x1="565.68" y1="1020.8" x2="565.68" y2="1023.3" stroke="#000" stroke-width="1.1"/>
<line x1="603.06" y1="1020.8" x2="603.06" y2="1023.3" stroke="#000" stroke-width="1.1"/>
<line x1="640.44" y1="1020.8" x2="640.44" y2="1023.3" stroke="#000" stroke-width="1.1"/>
<line x1="677.81" y1="1020.8" x2="677.81" y2="1023.3" stroke="#000" stroke-width="1.1"/>
<text x="517.45" y="1044.5" font-family='"Liberation Serif", serif' font-size="9.5" font-weight="bold" font-style="normal" text-anchor="middle" fill="#000" textLength="81.3" lengthAdjust="spacingAndGlyphs" >Binding energy (eV)</text>
<text transform="translate(352.8,915.8) rotate(-90)" x="0" y="0" font-family='"Liberation Serif", serif' font-size="9.8" font-weight="bold" text-anchor="middle" textLength="61.3" lengthAdjust="spacingAndGlyphs">Intensity (u.a.)</text>
<text x="369" y="817.3" font-family='"Liberation Serif", serif' font-size="10.6" font-weight="bold" font-style="italic" text-anchor="start" fill="#000" textLength="24.7" lengthAdjust="spacingAndGlyphs" >Fe 2p</text>
<text x="653" y="819.6" font-family='"Liberation Serif", serif' font-size="11.8" font-weight="bold" font-style="normal" text-anchor="start" fill="#000" textLength="13.5" lengthAdjust="spacingAndGlyphs" >(b)</text>
<circle cx="371.2" cy="921.2" r="1.9" fill="none" stroke="#333" stroke-width="0.75"/>
<text x="383.1" y="924.5" font-family='"Liberation Serif", serif' font-size="10.1" font-weight="bold" font-style="normal" text-anchor="start" fill="#000" textLength="85.9" lengthAdjust="spacingAndGlyphs" >Experimental result</text>
<line x1="362.5" y1="934.1" x2="380.4" y2="934.1" stroke="#0000ff" stroke-width="1.8"/>
<text x="383.1" y="937.5" font-family='"Liberation Serif", serif' font-size="10.1" font-weight="bold">Baseline</text>
<line x1="362.5" y1="947.4" x2="380.4" y2="947.4" stroke="#4a9c9c" stroke-width="1.8"/>
<path d="M369.55,948.8 L373.35,948.8 L371.45,945.5 Z M369.55,946.8 L373.35,946.8 L371.45,949.6 Z" fill="#fff" stroke="#8cc8c8" stroke-width="0.6"/>
<text x="383.1" y="950.8" font-family='"Liberation Serif", serif' font-size="10.1" font-weight="bold">FeOOH/Fe<tspan dy="2.8" font-size="1.05em">2</tspan><tspan dy="-2.8">O</tspan><tspan dy="2.8" font-size="1.05em">3</tspan><tspan dy="-2.8"></tspan></text>
<line x1="362.5" y1="963.8" x2="380.4" y2="963.8" stroke="#a0a0d0" stroke-width="1.8"/>
<path d="M369.35,963.8 L371.45,961.7 L373.55,963.8 L371.45,965.9 Z" fill="#fff" stroke="#9898d0" stroke-width="0.8"/>
<text x="383.1" y="967.2" font-family='"Liberation Serif", serif' font-size="10.1" font-weight="bold">FeCl<tspan dy="2.8" font-size="1.05em">3</tspan><tspan dy="-2.8">/FeOOH</tspan></text>
<line x1="362.5" y1="980.1" x2="380.4" y2="980.1" stroke="#8c8a40" stroke-width="1.8"/>
<path d="M369.45,981.6 L373.45,981.6 L371.45,978.2 Z" fill="#fff" stroke="#b8b67a" stroke-width="0.75"/>
<text x="383.1" y="983.5" font-family='"Liberation Serif", serif' font-size="10.1" font-weight="bold">Fe 2p<tspan dy="2.8" font-size="1.05em">3/2</tspan><tspan dy="-2.8">Satellites</tspan></text>
<line x1="362.5" y1="996.5" x2="380.4" y2="996.5" stroke="#ff55ff" stroke-width="1.8"/>
<path d="M369.55,997.9 L373.35,997.9 L371.45,994.6 Z M369.55,995.9 L373.35,995.9 L371.45,998.7 Z" fill="#fff" stroke="#ff99ff" stroke-width="0.6"/>
<text x="383.1" y="999.9" font-family='"Liberation Serif", serif' font-size="10.1" font-weight="bold">Fe 2p<tspan dy="2.8" font-size="1.05em">1/2</tspan><tspan dy="-2.8"></tspan></text>
<line x1="362.5" y1="1012.9" x2="380.4" y2="1012.9" stroke="#ff0000" stroke-width="1.8"/>
<text x="383.1" y="1016.3" font-family='"Liberation Serif", serif' font-size="10.1" font-weight="bold">Enveloppe</text>
</svg>
</body></html>
